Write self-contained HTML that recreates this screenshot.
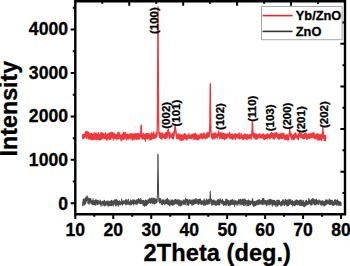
<!DOCTYPE html>
<html><head><meta charset="utf-8"><style>
html,body{margin:0;padding:0;background:#fff;}
svg{display:block;}
text{font-family:"Liberation Sans",sans-serif;font-weight:bold;fill:#000;stroke:#000;stroke-width:0.3px;}
</style></head><body>
<svg width="350" height="266" viewBox="0 0 350 266">
<rect width="350" height="266" fill="#fff"/>
<path d="M82.5 204.3L82.6 205.6L82.7 205.6L82.7 202.1L82.8 203.0L82.9 202.6L83.0 202.1L83.0 203.0L83.1 202.3L83.2 199.3L83.3 203.3L83.3 203.1L83.4 202.9L83.5 202.1L83.6 201.1L83.7 202.2L83.7 198.9L83.8 202.7L83.9 199.0L84.0 205.3L84.0 202.9L84.1 201.5L84.2 201.7L84.3 200.3L84.3 201.9L84.4 201.0L84.5 203.5L84.6 200.5L84.6 202.5L84.7 202.0L84.8 204.8L84.9 201.4L84.9 200.3L85.0 201.7L85.1 198.4L85.2 199.0L85.2 202.5L85.3 199.9L85.4 201.5L85.5 199.3L85.6 203.4L85.6 199.3L85.7 199.1L85.8 202.0L85.9 197.0L85.9 200.0L86.0 198.6L86.1 198.7L86.2 202.1L86.2 198.3L86.3 198.5L86.4 197.6L86.5 199.8L86.5 197.8L86.6 196.7L86.7 197.3L86.8 198.3L86.8 200.8L86.9 199.9L87.0 197.1L87.1 195.8L87.1 196.8L87.2 198.4L87.3 198.7L87.4 198.7L87.5 199.1L87.5 199.1L87.6 197.0L87.7 200.6L87.8 200.3L87.8 199.8L87.9 203.4L88.0 198.7L88.1 203.0L88.1 203.1L88.2 199.4L88.3 199.5L88.4 203.4L88.4 198.1L88.5 202.9L88.6 201.0L88.7 198.9L88.7 200.7L88.8 203.5L88.9 199.8L89.0 204.2L89.0 199.2L89.1 203.0L89.2 201.5L89.3 201.3L89.3 198.5L89.4 201.4L89.5 203.0L89.6 201.7L89.7 202.6L89.7 202.1L89.8 202.7L89.9 202.8L90.0 200.8L90.0 200.3L90.1 198.8L90.2 201.4L90.3 200.9L90.3 200.8L90.4 200.3L90.5 200.7L90.6 200.9L90.6 202.6L90.7 198.3L90.8 201.2L90.9 199.8L90.9 199.3L91.0 200.9L91.1 201.7L91.2 201.8L91.2 203.5L91.3 203.1L91.4 203.6L91.5 201.1L91.6 203.0L91.6 202.6L91.7 202.6L91.8 201.8L91.9 200.5L91.9 202.3L92.0 204.3L92.1 201.0L92.2 200.9L92.2 202.3L92.3 202.6L92.4 202.6L92.5 202.0L92.5 201.3L92.6 202.0L92.7 200.3L92.8 200.4L92.8 201.5L92.9 204.7L93.0 201.7L93.1 198.8L93.1 203.0L93.2 201.1L93.3 202.0L93.4 203.1L93.4 203.8L93.5 203.0L93.6 203.5L93.7 202.6L93.8 200.7L93.8 202.2L93.9 204.5L94.0 202.2L94.1 201.9L94.1 203.9L94.2 202.2L94.3 201.7L94.4 204.7L94.4 202.6L94.5 202.1L94.6 203.7L94.7 200.4L94.7 201.7L94.8 204.3L94.9 200.4L95.0 203.3L95.0 202.7L95.1 203.1L95.2 201.4L95.3 203.5L95.3 200.2L95.4 204.9L95.5 202.2L95.6 202.9L95.7 202.6L95.7 203.0L95.8 205.3L95.9 203.2L96.0 199.4L96.0 200.7L96.1 202.0L96.2 202.8L96.3 201.5L96.3 202.1L96.4 203.6L96.5 203.0L96.6 202.1L96.6 203.7L96.7 203.1L96.8 201.6L96.9 200.6L96.9 202.7L97.0 203.5L97.1 200.9L97.2 200.3L97.2 202.9L97.3 201.4L97.4 203.7L97.5 205.0L97.6 201.6L97.6 202.2L97.7 203.3L97.8 203.8L97.9 200.3L97.9 202.0L98.0 202.1L98.1 202.9L98.2 201.5L98.2 202.4L98.3 202.8L98.4 203.1L98.5 200.8L98.5 203.1L98.6 201.8L98.7 204.1L98.8 203.7L98.8 203.5L98.9 203.3L99.0 203.8L99.1 202.0L99.1 201.9L99.2 203.2L99.3 202.2L99.4 201.9L99.4 203.6L99.5 202.5L99.6 201.9L99.7 201.6L99.8 203.2L99.8 201.4L99.9 201.5L100.0 200.9L100.1 201.6L100.1 199.9L100.2 204.6L100.3 202.2L100.4 201.2L100.4 200.6L100.5 203.6L100.6 202.4L100.7 202.1L100.7 200.7L100.8 202.1L100.9 202.9L101.0 205.5L101.0 202.2L101.1 206.3L101.2 204.5L101.3 203.3L101.3 202.1L101.4 202.8L101.5 204.8L101.6 203.7L101.7 203.1L101.7 204.3L101.8 203.4L101.9 202.7L102.0 202.9L102.0 201.7L102.1 202.8L102.2 201.9L102.3 201.2L102.3 201.9L102.4 202.2L102.5 201.5L102.6 203.5L102.6 203.3L102.7 202.1L102.8 202.3L102.9 201.2L102.9 205.8L103.0 201.2L103.1 203.6L103.2 201.7L103.2 201.1L103.3 203.5L103.4 201.9L103.5 201.7L103.5 201.6L103.6 202.0L103.7 202.9L103.8 201.3L103.9 202.0L103.9 202.0L104.0 204.5L104.1 203.8L104.2 204.4L104.2 201.7L104.3 205.9L104.4 205.2L104.5 200.2L104.5 202.4L104.6 202.5L104.7 200.7L104.8 202.4L104.8 204.7L104.9 202.7L105.0 201.7L105.1 205.3L105.1 203.3L105.2 202.1L105.3 202.5L105.4 204.3L105.4 203.6L105.5 203.2L105.6 204.6L105.7 203.8L105.8 201.8L105.8 203.4L105.9 202.1L106.0 205.8L106.1 203.8L106.1 203.4L106.2 204.4L106.3 201.3L106.4 202.1L106.4 202.4L106.5 202.2L106.6 201.8L106.7 203.4L106.7 204.0L106.8 202.1L106.9 203.0L107.0 204.2L107.0 202.2L107.1 204.1L107.2 202.3L107.3 201.0L107.3 202.8L107.4 203.5L107.5 205.1L107.6 204.4L107.7 202.4L107.7 202.9L107.8 201.3L107.9 202.4L108.0 201.4L108.0 202.6L108.1 200.7L108.2 206.2L108.3 205.2L108.3 204.0L108.4 201.9L108.5 205.1L108.6 202.9L108.6 202.6L108.7 204.7L108.8 204.7L108.9 203.9L108.9 203.9L109.0 205.6L109.1 203.9L109.2 205.8L109.2 205.2L109.3 201.4L109.4 203.7L109.5 203.1L109.5 202.8L109.6 202.3L109.7 205.6L109.8 204.0L109.9 202.5L109.9 204.7L110.0 204.4L110.1 203.6L110.2 201.8L110.2 205.3L110.3 201.2L110.4 204.0L110.5 202.1L110.5 205.4L110.6 204.2L110.7 202.0L110.8 203.5L110.8 200.8L110.9 202.9L111.0 202.5L111.1 203.6L111.1 201.9L111.2 204.1L111.3 205.2L111.4 202.2L111.4 205.8L111.5 200.2L111.6 205.6L111.7 200.6L111.8 204.2L111.8 202.2L111.9 202.2L112.0 200.9L112.1 200.9L112.1 205.2L112.2 204.6L112.3 203.8L112.4 205.1L112.4 201.9L112.5 201.9L112.6 201.2L112.7 204.7L112.7 201.6L112.8 202.9L112.9 201.0L113.0 200.9L113.0 202.7L113.1 203.0L113.2 205.1L113.3 202.1L113.3 202.7L113.4 206.0L113.5 202.2L113.6 203.2L113.6 205.0L113.7 201.9L113.8 204.5L113.9 202.4L114.0 200.7L114.0 202.2L114.1 201.7L114.2 202.7L114.3 200.4L114.3 201.8L114.4 202.7L114.5 204.0L114.6 202.4L114.6 202.2L114.7 202.7L114.8 199.5L114.9 202.1L114.9 202.0L115.0 203.1L115.1 202.5L115.2 201.0L115.2 202.0L115.3 203.9L115.4 203.0L115.5 202.1L115.5 201.1L115.6 205.5L115.7 199.8L115.8 206.0L115.9 200.7L115.9 201.2L116.0 203.0L116.1 202.4L116.2 202.9L116.2 203.8L116.3 201.6L116.4 202.2L116.5 204.5L116.5 202.4L116.6 205.6L116.7 203.0L116.8 199.4L116.8 202.6L116.9 201.0L117.0 200.0L117.1 200.8L117.1 201.1L117.2 202.7L117.3 201.9L117.4 203.5L117.4 201.2L117.5 204.6L117.6 200.8L117.7 200.9L117.8 203.5L117.8 202.7L117.9 202.6L118.0 202.0L118.1 204.7L118.1 202.2L118.2 202.4L118.3 202.5L118.4 201.2L118.4 205.7L118.5 201.7L118.6 206.2L118.7 204.0L118.7 201.8L118.8 202.9L118.9 202.1L119.0 203.2L119.0 203.4L119.1 203.9L119.2 201.9L119.3 203.0L119.3 201.5L119.4 202.8L119.5 202.3L119.6 203.1L119.6 200.4L119.7 204.1L119.8 204.6L119.9 201.6L120.0 201.8L120.0 203.9L120.1 203.3L120.2 202.3L120.3 204.6L120.3 202.6L120.4 204.1L120.5 202.8L120.6 203.0L120.6 204.6L120.7 203.4L120.8 202.8L120.9 201.5L120.9 202.1L121.0 202.0L121.1 203.9L121.2 201.3L121.2 202.8L121.3 203.3L121.4 202.1L121.5 204.0L121.5 203.1L121.6 201.2L121.7 199.0L121.8 201.5L121.9 201.6L121.9 201.4L122.0 203.1L122.1 200.9L122.2 203.8L122.2 204.0L122.3 201.6L122.4 202.6L122.5 203.6L122.5 203.9L122.6 205.3L122.7 201.9L122.8 201.2L122.8 203.2L122.9 204.1L123.0 202.7L123.1 203.8L123.1 201.1L123.2 203.9L123.3 200.7L123.4 200.7L123.4 203.2L123.5 201.5L123.6 201.9L123.7 203.7L123.7 202.6L123.8 201.3L123.9 202.9L124.0 202.9L124.1 200.9L124.1 201.5L124.2 202.4L124.3 200.7L124.4 203.0L124.4 201.5L124.5 202.4L124.6 201.8L124.7 201.7L124.7 201.2L124.8 203.3L124.9 201.7L125.0 202.7L125.0 201.1L125.1 203.1L125.2 204.1L125.3 202.0L125.3 202.8L125.4 201.3L125.5 203.4L125.6 200.3L125.6 201.0L125.7 204.6L125.8 201.8L125.9 204.9L126.0 199.2L126.0 201.5L126.1 201.2L126.2 204.3L126.3 200.2L126.3 200.8L126.4 200.7L126.5 201.1L126.6 200.0L126.6 200.1L126.7 203.2L126.8 204.1L126.9 200.5L126.9 202.3L127.0 201.1L127.1 201.9L127.2 204.0L127.2 202.0L127.3 202.3L127.4 203.5L127.5 200.7L127.5 203.3L127.6 203.8L127.7 204.1L127.8 203.0L127.9 202.1L127.9 204.5L128.0 202.4L128.1 202.6L128.2 201.5L128.2 202.4L128.3 199.1L128.4 203.2L128.5 202.9L128.5 201.8L128.6 203.8L128.7 203.9L128.8 201.8L128.8 203.7L128.9 203.9L129.0 201.9L129.1 202.1L129.1 203.2L129.2 202.4L129.3 203.1L129.4 202.2L129.4 204.1L129.5 202.6L129.6 204.9L129.7 204.6L129.7 204.3L129.8 204.3L129.9 202.0L130.0 202.3L130.1 201.6L130.1 201.2L130.2 201.4L130.3 201.8L130.4 199.7L130.4 201.4L130.5 202.6L130.6 202.7L130.7 201.0L130.7 201.8L130.8 201.5L130.9 205.0L131.0 204.6L131.0 204.5L131.1 203.6L131.2 204.0L131.3 203.6L131.3 201.8L131.4 201.2L131.5 204.6L131.6 200.5L131.6 203.3L131.7 200.9L131.8 201.4L131.9 201.9L132.0 200.7L132.0 201.9L132.1 203.4L132.2 203.4L132.3 202.5L132.3 202.0L132.4 201.3L132.5 203.7L132.6 203.5L132.6 202.8L132.7 202.1L132.8 201.3L132.9 202.9L132.9 199.4L133.0 201.1L133.1 199.7L133.2 202.3L133.2 203.5L133.3 199.4L133.4 203.3L133.5 202.8L133.5 202.2L133.6 204.9L133.7 202.7L133.8 202.6L133.8 202.2L133.9 200.9L134.0 201.4L134.1 201.1L134.2 201.6L134.2 202.6L134.3 201.3L134.4 202.2L134.5 201.2L134.5 203.6L134.6 200.2L134.7 200.0L134.8 201.3L134.8 201.7L134.9 201.0L135.0 203.6L135.1 200.7L135.1 203.6L135.2 201.6L135.3 203.3L135.4 202.0L135.4 201.5L135.5 201.3L135.6 204.0L135.7 201.2L135.7 203.1L135.8 200.9L135.9 202.7L136.0 201.2L136.1 200.2L136.1 201.8L136.2 200.9L136.3 203.8L136.4 204.2L136.4 204.1L136.5 200.6L136.6 200.3L136.7 199.9L136.7 200.2L136.8 203.0L136.9 200.1L137.0 201.9L137.0 204.3L137.1 201.7L137.2 200.6L137.3 202.5L137.3 199.8L137.4 201.2L137.5 201.8L137.6 201.3L137.6 202.9L137.7 202.1L137.8 202.4L137.9 203.6L138.0 200.7L138.0 199.3L138.1 201.6L138.2 200.3L138.3 201.7L138.3 202.0L138.4 200.2L138.5 201.5L138.6 198.5L138.6 200.6L138.7 201.3L138.8 201.4L138.9 202.5L138.9 202.3L139.0 200.1L139.1 200.7L139.2 202.8L139.2 201.0L139.3 203.2L139.4 203.3L139.5 201.8L139.5 199.7L139.6 200.6L139.7 199.4L139.8 200.6L139.8 199.7L139.9 201.4L140.0 202.9L140.1 201.7L140.2 200.3L140.2 203.5L140.3 202.5L140.4 201.1L140.5 201.9L140.5 201.2L140.6 200.3L140.7 203.1L140.8 199.1L140.8 198.3L140.9 199.9L141.0 203.6L141.1 201.4L141.1 203.4L141.2 201.2L141.3 201.4L141.4 200.3L141.4 200.4L141.5 202.4L141.6 200.2L141.7 203.5L141.7 201.1L141.8 202.0L141.9 203.0L142.0 201.9L142.1 201.8L142.1 202.6L142.2 202.5L142.3 202.2L142.4 201.0L142.4 202.6L142.5 200.5L142.6 202.6L142.7 201.1L142.7 203.2L142.8 200.5L142.9 202.2L143.0 204.4L143.0 202.2L143.1 205.5L143.2 202.7L143.3 202.7L143.3 200.7L143.4 201.2L143.5 204.3L143.6 203.7L143.6 204.9L143.7 200.6L143.8 203.0L143.9 203.6L143.9 202.6L144.0 205.2L144.1 202.3L144.2 202.4L144.3 203.0L144.3 206.1L144.4 201.5L144.5 204.3L144.6 205.5L144.6 201.2L144.7 204.2L144.8 203.1L144.9 202.9L144.9 201.2L145.0 203.2L145.1 200.3L145.2 203.1L145.2 205.0L145.3 205.9L145.4 202.9L145.5 204.6L145.5 201.5L145.6 201.1L145.7 202.3L145.8 202.9L145.8 199.9L145.9 200.3L146.0 204.0L146.1 202.6L146.2 201.3L146.2 202.6L146.3 201.5L146.4 205.6L146.5 201.6L146.5 200.5L146.6 202.4L146.7 202.8L146.8 200.4L146.8 201.3L146.9 204.1L147.0 203.1L147.1 202.3L147.1 202.9L147.2 201.8L147.3 201.8L147.4 204.4L147.4 201.5L147.5 201.1L147.6 202.2L147.7 201.7L147.7 201.0L147.8 200.9L147.9 201.5L148.0 202.2L148.1 199.4L148.1 200.2L148.2 201.0L148.3 201.5L148.4 202.0L148.4 203.3L148.5 201.2L148.6 201.6L148.7 201.6L148.7 202.9L148.8 200.5L148.9 201.8L149.0 203.1L149.0 201.4L149.1 202.8L149.2 199.3L149.3 200.4L149.3 202.0L149.4 200.5L149.5 202.6L149.6 199.9L149.6 200.1L149.7 199.3L149.8 202.5L149.9 200.7L149.9 197.9L150.0 201.8L150.1 201.3L150.2 200.5L150.3 201.5L150.3 201.0L150.4 199.5L150.5 202.9L150.6 200.6L150.6 199.2L150.7 199.4L150.8 200.6L150.9 199.0L150.9 201.0L151.0 203.5L151.1 199.6L151.2 199.6L151.2 202.6L151.3 201.4L151.4 201.9L151.5 199.4L151.5 200.1L151.6 201.2L151.7 199.0L151.8 197.8L151.8 200.4L151.9 202.5L152.0 199.7L152.1 198.1L152.2 199.3L152.2 198.4L152.3 200.6L152.4 202.2L152.5 201.0L152.5 203.6L152.6 202.0L152.7 202.9L152.8 199.2L152.8 200.3L152.9 201.9L153.0 200.4L153.1 200.2L153.1 199.4L153.2 203.7L153.3 201.8L153.4 200.8L153.4 202.0L153.5 198.0L153.6 202.7L153.7 198.9L153.7 199.1L153.8 202.4L153.9 199.8L154.0 201.3L154.0 200.8L154.1 202.2L154.2 200.8L154.3 202.3L154.4 201.4L154.4 204.0L154.5 201.0L154.6 201.0L154.7 203.1L154.7 198.4L154.8 201.6L154.9 201.9L155.0 201.8L155.0 199.5L155.1 200.7L155.2 203.5L155.3 202.7L155.3 199.2L155.4 198.9L155.5 202.2L155.6 200.9L155.6 202.7L155.7 200.9L155.8 202.3L155.9 201.5L155.9 199.0L156.0 203.1L156.1 202.2L156.2 202.9L156.3 200.7L156.3 202.6L156.4 201.0L156.5 199.5L156.6 202.7L156.6 202.4L156.7 199.2L156.8 202.6L156.9 201.2L156.9 201.8L157.0 201.5L157.1 202.1L157.2 200.3L157.2 200.9L157.3 197.7L157.4 195.1L157.5 192.9L157.5 188.6L157.6 179.0L157.7 175.5L157.8 167.5L157.8 158.9L157.9 154.1L158.0 156.6L158.1 154.5L158.2 162.7L158.2 166.2L158.3 175.8L158.4 181.1L158.5 188.0L158.5 191.9L158.6 193.4L158.7 196.3L158.8 199.6L158.8 200.4L158.9 201.8L159.0 201.8L159.1 201.1L159.1 198.6L159.2 200.8L159.3 201.8L159.4 202.4L159.4 200.2L159.5 203.0L159.6 200.7L159.7 198.5L159.7 201.1L159.8 201.3L159.9 200.1L160.0 202.5L160.0 200.9L160.1 199.3L160.2 200.3L160.3 201.9L160.4 201.9L160.4 201.9L160.5 200.8L160.6 198.5L160.7 199.6L160.7 201.9L160.8 200.1L160.9 200.5L161.0 200.8L161.0 203.2L161.1 200.6L161.2 201.0L161.3 201.5L161.3 201.9L161.4 202.9L161.5 204.4L161.6 202.0L161.6 202.1L161.7 202.4L161.8 201.7L161.9 202.8L161.9 202.8L162.0 201.2L162.1 199.8L162.2 200.1L162.3 201.3L162.3 203.4L162.4 203.3L162.5 204.7L162.6 203.2L162.6 201.8L162.7 202.7L162.8 200.1L162.9 202.2L162.9 202.0L163.0 202.1L163.1 201.3L163.2 203.4L163.2 201.1L163.3 201.0L163.4 199.7L163.5 200.8L163.5 202.2L163.6 203.5L163.7 203.1L163.8 202.6L163.8 200.9L163.9 199.8L164.0 201.0L164.1 202.5L164.1 200.2L164.2 203.1L164.3 200.6L164.4 201.7L164.5 202.9L164.5 200.7L164.6 202.1L164.7 201.8L164.8 204.7L164.8 203.3L164.9 201.0L165.0 202.6L165.1 202.9L165.1 200.8L165.2 204.1L165.3 201.3L165.4 203.8L165.4 200.8L165.5 201.4L165.6 203.4L165.7 203.0L165.7 203.6L165.8 199.5L165.9 200.7L166.0 200.7L166.0 202.2L166.1 199.3L166.2 202.1L166.3 203.7L166.4 199.8L166.4 202.2L166.5 203.6L166.6 202.0L166.7 203.1L166.7 200.5L166.8 202.6L166.9 199.0L167.0 202.2L167.0 200.2L167.1 201.1L167.2 202.5L167.3 203.7L167.3 201.3L167.4 198.2L167.5 204.3L167.6 200.6L167.6 202.7L167.7 201.1L167.8 203.9L167.9 203.0L167.9 201.5L168.0 201.4L168.1 201.3L168.2 202.8L168.3 204.5L168.3 199.7L168.4 202.4L168.5 203.3L168.6 202.1L168.6 203.9L168.7 203.0L168.8 203.6L168.9 199.7L168.9 202.7L169.0 203.1L169.1 205.3L169.2 200.6L169.2 202.7L169.3 203.5L169.4 203.8L169.5 204.6L169.5 201.3L169.6 201.2L169.7 201.4L169.8 202.3L169.8 202.5L169.9 205.9L170.0 202.3L170.1 204.6L170.1 201.4L170.2 202.7L170.3 201.2L170.4 202.0L170.5 203.4L170.5 204.2L170.6 203.4L170.7 203.7L170.8 203.4L170.8 204.6L170.9 204.7L171.0 201.7L171.1 199.9L171.1 202.2L171.2 201.1L171.3 203.1L171.4 202.3L171.4 200.5L171.5 202.1L171.6 202.9L171.7 202.6L171.7 203.3L171.8 201.9L171.9 204.2L172.0 204.9L172.0 200.1L172.1 201.5L172.2 205.0L172.3 200.9L172.4 203.5L172.4 201.1L172.5 199.9L172.6 205.2L172.7 201.1L172.7 201.8L172.8 202.9L172.9 203.4L173.0 202.2L173.0 201.5L173.1 203.6L173.2 205.1L173.3 204.0L173.3 203.8L173.4 200.7L173.5 202.7L173.6 201.2L173.6 201.6L173.7 201.6L173.8 203.3L173.9 201.9L173.9 203.6L174.0 204.3L174.1 200.3L174.2 200.9L174.2 202.2L174.3 204.3L174.4 201.6L174.5 199.8L174.6 203.1L174.6 202.4L174.7 204.1L174.8 203.8L174.9 202.0L174.9 200.5L175.0 201.7L175.1 202.3L175.2 202.8L175.2 203.4L175.3 201.3L175.4 202.3L175.5 199.3L175.5 202.7L175.6 202.8L175.7 203.6L175.8 202.0L175.8 203.6L175.9 202.7L176.0 202.3L176.1 202.1L176.1 201.6L176.2 201.0L176.3 200.8L176.4 201.1L176.5 200.8L176.5 200.1L176.6 200.9L176.7 200.7L176.8 200.7L176.8 201.1L176.9 204.1L177.0 199.9L177.1 201.6L177.1 200.4L177.2 202.1L177.3 204.3L177.4 202.1L177.4 201.4L177.5 201.5L177.6 201.9L177.7 201.9L177.7 201.9L177.8 203.0L177.9 200.5L178.0 201.9L178.0 199.3L178.1 202.4L178.2 201.9L178.3 202.7L178.4 203.3L178.4 204.2L178.5 204.1L178.6 203.6L178.7 202.8L178.7 202.8L178.8 202.4L178.9 205.6L179.0 205.9L179.0 202.0L179.1 200.6L179.2 201.3L179.3 199.9L179.3 201.3L179.4 203.8L179.5 201.8L179.6 202.8L179.6 203.0L179.7 205.2L179.8 202.2L179.9 202.5L179.9 204.0L180.0 205.5L180.1 205.0L180.2 200.7L180.2 203.6L180.3 203.9L180.4 203.0L180.5 204.2L180.6 205.5L180.6 203.1L180.7 202.7L180.8 205.9L180.9 202.7L180.9 202.7L181.0 202.4L181.1 200.3L181.2 204.8L181.2 201.7L181.3 204.9L181.4 202.8L181.5 202.1L181.5 203.6L181.6 205.3L181.7 202.3L181.8 205.0L181.8 202.4L181.9 204.2L182.0 201.9L182.1 205.0L182.1 203.6L182.2 202.8L182.3 201.5L182.4 202.9L182.5 202.2L182.5 202.2L182.6 201.3L182.7 203.0L182.8 201.7L182.8 202.4L182.9 201.4L183.0 202.3L183.1 202.9L183.1 200.2L183.2 200.8L183.3 199.8L183.4 203.3L183.4 201.6L183.5 204.3L183.6 201.0L183.7 201.8L183.7 203.6L183.8 202.2L183.9 203.9L184.0 200.9L184.0 202.0L184.1 204.6L184.2 202.2L184.3 203.6L184.3 202.1L184.4 200.7L184.5 203.5L184.6 202.6L184.7 201.6L184.7 201.8L184.8 200.4L184.9 202.4L185.0 199.6L185.0 200.5L185.1 200.6L185.2 201.2L185.3 202.1L185.3 201.5L185.4 204.6L185.5 202.7L185.6 199.5L185.6 200.1L185.7 198.3L185.8 199.0L185.9 201.5L185.9 201.6L186.0 200.1L186.1 202.3L186.2 200.2L186.2 200.2L186.3 199.3L186.4 200.7L186.5 201.3L186.6 202.2L186.6 199.6L186.7 200.8L186.8 200.3L186.9 205.1L186.9 202.5L187.0 202.2L187.1 204.9L187.2 203.5L187.2 204.4L187.3 200.5L187.4 199.2L187.5 202.3L187.5 202.3L187.6 199.2L187.7 203.6L187.8 203.0L187.8 200.2L187.9 199.9L188.0 202.0L188.1 201.5L188.1 203.9L188.2 205.1L188.3 203.6L188.4 201.4L188.5 203.2L188.5 204.0L188.6 201.9L188.7 205.3L188.8 201.1L188.8 201.6L188.9 204.9L189.0 202.0L189.1 203.5L189.1 200.2L189.2 203.2L189.3 203.1L189.4 200.0L189.4 200.2L189.5 202.3L189.6 202.9L189.7 202.4L189.7 202.4L189.8 199.6L189.9 200.1L190.0 202.2L190.0 202.4L190.1 202.7L190.2 201.8L190.3 203.3L190.3 200.9L190.4 203.6L190.5 202.8L190.6 202.6L190.7 203.8L190.7 203.1L190.8 201.0L190.9 203.8L191.0 202.3L191.0 203.7L191.1 201.9L191.2 199.9L191.3 200.6L191.3 201.5L191.4 202.3L191.5 201.3L191.6 203.7L191.6 201.6L191.7 204.9L191.8 201.8L191.9 202.8L191.9 200.5L192.0 203.4L192.1 204.4L192.2 202.8L192.2 205.1L192.3 203.8L192.4 199.8L192.5 202.2L192.6 202.5L192.6 203.5L192.7 200.7L192.8 201.1L192.9 203.0L192.9 204.5L193.0 202.7L193.1 202.5L193.2 200.3L193.2 202.4L193.3 204.7L193.4 200.3L193.5 202.3L193.5 199.9L193.6 202.7L193.7 203.6L193.8 201.0L193.8 204.1L193.9 202.1L194.0 202.0L194.1 199.5L194.1 202.8L194.2 200.4L194.3 203.9L194.4 204.0L194.4 202.5L194.5 202.9L194.6 200.9L194.7 201.0L194.8 200.3L194.8 200.2L194.9 202.6L195.0 203.4L195.1 201.4L195.1 201.6L195.2 201.6L195.3 202.0L195.4 203.5L195.4 198.8L195.5 200.2L195.6 203.8L195.7 200.9L195.7 202.8L195.8 203.5L195.9 201.4L196.0 201.9L196.0 202.5L196.1 202.5L196.2 200.7L196.3 201.2L196.3 198.7L196.4 202.3L196.5 202.4L196.6 203.1L196.7 200.2L196.7 201.0L196.8 201.8L196.9 201.6L197.0 203.3L197.0 201.8L197.1 201.2L197.2 201.4L197.3 202.3L197.3 200.1L197.4 201.2L197.5 200.7L197.6 203.8L197.6 202.3L197.7 199.4L197.8 203.9L197.9 200.4L197.9 202.4L198.0 202.3L198.1 202.1L198.2 203.6L198.2 201.5L198.3 204.1L198.4 200.7L198.5 204.4L198.6 200.5L198.6 202.6L198.7 199.8L198.8 201.3L198.9 202.5L198.9 199.3L199.0 203.4L199.1 201.5L199.2 200.5L199.2 198.9L199.3 199.4L199.4 202.4L199.5 201.8L199.5 202.9L199.6 201.6L199.7 200.8L199.8 202.5L199.8 200.5L199.9 200.0L200.0 204.1L200.1 199.5L200.1 201.3L200.2 201.2L200.3 199.1L200.4 203.1L200.4 202.8L200.5 202.2L200.6 199.0L200.7 202.6L200.8 199.9L200.8 201.4L200.9 203.5L201.0 202.7L201.1 203.0L201.1 201.5L201.2 202.5L201.3 204.5L201.4 201.2L201.4 203.6L201.5 204.4L201.6 201.0L201.7 203.1L201.7 202.7L201.8 204.5L201.9 202.0L202.0 200.5L202.0 203.4L202.1 200.9L202.2 202.3L202.3 202.1L202.3 202.3L202.4 202.8L202.5 204.1L202.6 202.7L202.7 202.9L202.7 203.0L202.8 202.8L202.9 202.3L203.0 203.2L203.0 201.3L203.1 202.7L203.2 200.8L203.3 203.1L203.3 203.6L203.4 201.1L203.5 204.9L203.6 202.0L203.6 203.6L203.7 201.2L203.8 201.7L203.9 201.7L203.9 200.8L204.0 201.2L204.1 198.9L204.2 201.3L204.2 203.5L204.3 205.4L204.4 204.0L204.5 203.1L204.5 203.1L204.6 202.7L204.7 202.1L204.8 200.2L204.9 202.7L204.9 200.0L205.0 200.4L205.1 203.5L205.2 202.0L205.2 202.7L205.3 203.3L205.4 203.5L205.5 200.8L205.5 205.0L205.6 202.4L205.7 202.9L205.8 202.1L205.8 203.6L205.9 202.9L206.0 201.8L206.1 201.1L206.1 200.7L206.2 201.1L206.3 203.6L206.4 203.0L206.4 202.5L206.5 203.0L206.6 198.7L206.7 199.7L206.8 201.0L206.8 204.8L206.9 203.0L207.0 202.4L207.1 201.6L207.1 201.9L207.2 200.1L207.3 201.6L207.4 201.7L207.4 203.1L207.5 201.0L207.6 204.2L207.7 201.7L207.7 203.7L207.8 202.2L207.9 201.3L208.0 202.5L208.0 201.7L208.1 201.9L208.2 203.3L208.3 202.4L208.3 199.7L208.4 204.1L208.5 202.6L208.6 201.8L208.7 201.9L208.7 202.5L208.8 199.3L208.9 202.9L209.0 203.3L209.0 203.5L209.1 201.8L209.2 201.4L209.3 202.9L209.3 201.5L209.4 201.5L209.5 203.7L209.6 199.1L209.6 199.6L209.7 201.3L209.8 200.7L209.9 200.4L209.9 199.0L210.0 196.5L210.1 196.4L210.2 192.1L210.2 191.3L210.3 192.4L210.4 193.9L210.5 194.0L210.5 194.9L210.6 198.0L210.7 201.2L210.8 199.3L210.9 199.6L210.9 203.2L211.0 198.8L211.1 202.8L211.2 201.3L211.2 202.5L211.3 203.8L211.4 202.0L211.5 200.6L211.5 204.2L211.6 201.9L211.7 202.4L211.8 199.2L211.8 200.9L211.9 205.5L212.0 201.6L212.1 203.0L212.1 201.5L212.2 200.5L212.3 202.6L212.4 200.5L212.4 203.1L212.5 202.3L212.6 201.2L212.7 204.2L212.8 204.4L212.8 204.5L212.9 204.3L213.0 202.1L213.1 203.2L213.1 202.9L213.2 204.2L213.3 204.0L213.4 201.8L213.4 202.2L213.5 200.2L213.6 203.5L213.7 202.8L213.7 199.7L213.8 201.2L213.9 203.0L214.0 200.3L214.0 200.5L214.1 204.1L214.2 203.0L214.3 203.6L214.3 200.5L214.4 202.2L214.5 202.7L214.6 202.8L214.6 201.7L214.7 204.6L214.8 201.8L214.9 203.2L215.0 204.0L215.0 203.1L215.1 201.6L215.2 204.6L215.3 202.6L215.3 201.0L215.4 202.0L215.5 202.5L215.6 203.6L215.6 200.9L215.7 202.5L215.8 205.4L215.9 203.5L215.9 204.0L216.0 201.6L216.1 203.2L216.2 202.4L216.2 201.8L216.3 203.1L216.4 205.2L216.5 202.9L216.5 202.1L216.6 203.6L216.7 202.9L216.8 203.0L216.9 202.2L216.9 204.9L217.0 201.5L217.1 200.2L217.2 204.6L217.2 202.3L217.3 202.5L217.4 203.5L217.5 201.6L217.5 202.6L217.6 202.2L217.7 202.4L217.8 204.0L217.8 201.8L217.9 204.4L218.0 199.4L218.1 199.3L218.1 203.7L218.2 203.4L218.3 203.2L218.4 199.7L218.4 202.7L218.5 204.5L218.6 201.5L218.7 201.3L218.8 200.7L218.8 205.1L218.9 200.1L219.0 201.4L219.1 202.4L219.1 204.9L219.2 201.8L219.3 203.1L219.4 201.9L219.4 201.6L219.5 203.1L219.6 199.7L219.7 199.9L219.7 201.0L219.8 201.3L219.9 204.6L220.0 203.0L220.0 199.1L220.1 202.5L220.2 201.2L220.3 198.7L220.3 201.8L220.4 201.5L220.5 199.8L220.6 202.1L220.6 200.7L220.7 202.5L220.8 200.2L220.9 200.4L221.0 201.9L221.0 201.8L221.1 201.9L221.2 202.0L221.3 200.5L221.3 201.8L221.4 200.5L221.5 202.5L221.6 201.2L221.6 202.3L221.7 201.2L221.8 203.6L221.9 201.4L221.9 202.3L222.0 202.7L222.1 204.1L222.2 204.2L222.2 204.3L222.3 199.2L222.4 203.4L222.5 203.4L222.5 199.3L222.6 201.0L222.7 203.4L222.8 201.8L222.9 203.2L222.9 202.4L223.0 200.3L223.1 201.7L223.2 201.9L223.2 202.9L223.3 203.0L223.4 202.6L223.5 203.2L223.5 201.6L223.6 205.5L223.7 202.1L223.8 202.9L223.8 203.8L223.9 203.1L224.0 204.4L224.1 201.4L224.1 202.8L224.2 203.1L224.3 203.1L224.4 203.6L224.4 203.8L224.5 201.5L224.6 204.9L224.7 202.9L224.7 201.9L224.8 203.8L224.9 201.9L225.0 202.3L225.1 202.3L225.1 203.4L225.2 201.8L225.3 203.5L225.4 203.3L225.4 201.5L225.5 204.9L225.6 203.2L225.7 199.2L225.7 200.8L225.8 201.6L225.9 202.3L226.0 203.4L226.0 200.5L226.1 199.8L226.2 204.1L226.3 204.5L226.3 205.3L226.4 205.3L226.5 202.8L226.6 199.1L226.6 200.4L226.7 202.8L226.8 203.4L226.9 200.5L227.0 203.8L227.0 203.6L227.1 199.6L227.2 202.7L227.3 201.7L227.3 202.3L227.4 202.9L227.5 201.7L227.6 201.4L227.6 203.1L227.7 200.5L227.8 202.9L227.9 201.9L227.9 200.7L228.0 205.1L228.1 203.3L228.2 200.2L228.2 202.7L228.3 203.0L228.4 203.8L228.5 201.9L228.5 205.5L228.6 203.5L228.7 201.7L228.8 201.7L228.9 200.3L228.9 202.3L229.0 202.3L229.1 202.7L229.2 202.3L229.2 201.3L229.3 204.6L229.4 202.4L229.5 204.6L229.5 202.3L229.6 204.2L229.7 205.0L229.8 202.2L229.8 203.9L229.9 206.1L230.0 202.8L230.1 203.8L230.1 203.3L230.2 203.6L230.3 205.1L230.4 204.2L230.4 200.5L230.5 200.1L230.6 204.5L230.7 202.9L230.7 202.9L230.8 203.2L230.9 200.7L231.0 204.0L231.1 200.5L231.1 202.5L231.2 201.4L231.3 202.3L231.4 204.2L231.4 200.4L231.5 202.5L231.6 203.8L231.7 203.9L231.7 203.9L231.8 199.8L231.9 204.4L232.0 201.9L232.0 201.7L232.1 204.3L232.2 204.4L232.3 200.6L232.3 204.5L232.4 201.4L232.5 201.3L232.6 203.9L232.6 199.4L232.7 204.3L232.8 202.5L232.9 201.1L233.0 202.4L233.0 203.5L233.1 202.1L233.2 203.0L233.3 201.8L233.3 203.0L233.4 204.4L233.5 203.2L233.6 201.2L233.6 202.9L233.7 203.7L233.8 202.7L233.9 203.6L233.9 200.1L234.0 204.1L234.1 204.1L234.2 203.7L234.2 203.9L234.3 202.7L234.4 203.0L234.5 201.5L234.5 206.0L234.6 206.3L234.7 202.8L234.8 200.7L234.8 201.3L234.9 202.7L235.0 202.6L235.1 203.4L235.2 202.4L235.2 204.4L235.3 202.2L235.4 201.9L235.5 203.5L235.5 201.0L235.6 203.6L235.7 202.7L235.8 202.6L235.8 203.7L235.9 203.3L236.0 200.3L236.1 201.4L236.1 204.0L236.2 202.7L236.3 202.1L236.4 202.7L236.4 201.4L236.5 202.2L236.6 203.3L236.7 202.3L236.7 202.3L236.8 205.0L236.9 203.9L237.0 203.0L237.1 205.3L237.1 201.9L237.2 204.2L237.3 201.9L237.4 203.8L237.4 202.1L237.5 203.4L237.6 201.0L237.7 203.4L237.7 201.7L237.8 201.4L237.9 203.8L238.0 202.3L238.0 202.7L238.1 202.0L238.2 202.5L238.3 202.5L238.3 202.1L238.4 202.5L238.5 201.6L238.6 202.2L238.6 199.5L238.7 203.5L238.8 201.3L238.9 202.0L239.0 204.0L239.0 205.1L239.1 201.4L239.2 202.1L239.3 201.1L239.3 204.1L239.4 200.3L239.5 203.4L239.6 201.6L239.6 203.1L239.7 201.3L239.8 200.8L239.9 202.5L239.9 199.3L240.0 199.9L240.1 199.3L240.2 202.2L240.2 200.1L240.3 201.2L240.4 201.8L240.5 201.7L240.5 199.5L240.6 202.9L240.7 204.7L240.8 202.1L240.8 205.0L240.9 202.5L241.0 204.1L241.1 202.2L241.2 201.9L241.2 202.8L241.3 200.3L241.4 201.6L241.5 202.8L241.5 201.2L241.6 202.8L241.7 201.3L241.8 204.2L241.8 202.0L241.9 201.6L242.0 202.4L242.1 204.4L242.1 199.1L242.2 200.7L242.3 201.0L242.4 202.4L242.4 203.9L242.5 202.4L242.6 202.0L242.7 199.5L242.7 202.9L242.8 202.5L242.9 204.1L243.0 202.3L243.1 202.0L243.1 199.3L243.2 203.4L243.3 204.1L243.4 204.4L243.4 203.6L243.5 204.2L243.6 204.8L243.7 199.3L243.7 205.5L243.8 201.2L243.9 205.2L244.0 202.9L244.0 200.4L244.1 202.0L244.2 203.7L244.3 205.4L244.3 199.5L244.4 201.3L244.5 203.4L244.6 202.1L244.6 201.2L244.7 200.9L244.8 202.8L244.9 198.8L244.9 202.5L245.0 202.8L245.1 201.5L245.2 203.4L245.3 201.2L245.3 200.8L245.4 200.1L245.5 200.4L245.6 205.1L245.6 204.8L245.7 201.5L245.8 201.8L245.9 200.6L245.9 203.7L246.0 201.8L246.1 203.6L246.2 202.8L246.2 201.4L246.3 202.3L246.4 200.6L246.5 201.6L246.5 202.6L246.6 201.9L246.7 203.5L246.8 201.3L246.8 203.6L246.9 202.1L247.0 206.1L247.1 202.5L247.2 205.8L247.2 200.7L247.3 204.9L247.4 203.0L247.5 204.4L247.5 201.2L247.6 202.7L247.7 205.1L247.8 203.1L247.8 203.6L247.9 201.4L248.0 200.4L248.1 203.9L248.1 201.7L248.2 203.7L248.3 202.7L248.4 202.1L248.4 199.8L248.5 205.7L248.6 200.4L248.7 203.7L248.7 204.1L248.8 203.9L248.9 201.8L249.0 201.4L249.1 202.5L249.1 201.0L249.2 200.4L249.3 203.3L249.4 201.7L249.4 202.6L249.5 204.2L249.6 201.0L249.7 204.6L249.7 205.1L249.8 202.4L249.9 204.4L250.0 205.1L250.0 205.1L250.1 201.6L250.2 204.6L250.3 204.2L250.3 201.5L250.4 203.1L250.5 202.3L250.6 204.4L250.6 203.0L250.7 201.8L250.8 201.7L250.9 201.6L250.9 203.1L251.0 200.8L251.1 201.4L251.2 203.3L251.3 202.1L251.3 203.3L251.4 203.9L251.5 203.3L251.6 202.8L251.6 202.0L251.7 201.4L251.8 201.7L251.9 203.1L251.9 201.6L252.0 203.5L252.1 201.9L252.2 203.2L252.2 202.3L252.3 200.1L252.4 198.6L252.5 203.0L252.5 201.4L252.6 201.5L252.7 202.3L252.8 205.0L252.8 203.6L252.9 199.4L253.0 202.1L253.1 202.8L253.2 204.0L253.2 203.1L253.3 206.1L253.4 201.4L253.5 205.0L253.5 204.6L253.6 202.1L253.7 203.8L253.8 204.4L253.8 204.1L253.9 206.3L254.0 204.3L254.1 203.6L254.1 202.6L254.2 203.0L254.3 201.9L254.4 205.0L254.4 204.2L254.5 206.0L254.6 201.3L254.7 203.3L254.7 205.5L254.8 202.5L254.9 203.3L255.0 203.6L255.0 203.5L255.1 202.5L255.2 202.1L255.3 204.3L255.4 202.8L255.4 204.3L255.5 201.4L255.6 203.3L255.7 205.7L255.7 204.9L255.8 202.2L255.9 205.6L256.0 203.8L256.0 202.7L256.1 203.6L256.2 202.0L256.3 204.4L256.3 202.6L256.4 201.6L256.5 204.5L256.6 204.2L256.6 201.0L256.7 200.8L256.8 203.6L256.9 203.0L256.9 203.0L257.0 200.3L257.1 203.0L257.2 201.3L257.3 201.9L257.3 204.0L257.4 201.5L257.5 201.8L257.6 202.9L257.6 202.7L257.7 201.1L257.8 201.9L257.9 200.8L257.9 204.8L258.0 202.5L258.1 202.3L258.2 204.3L258.2 204.1L258.3 199.7L258.4 202.1L258.5 202.0L258.5 203.6L258.6 203.5L258.7 202.0L258.8 204.4L258.8 201.1L258.9 202.4L259.0 200.5L259.1 202.5L259.2 200.7L259.2 203.6L259.3 202.8L259.4 202.1L259.5 199.4L259.5 203.9L259.6 203.6L259.7 202.6L259.8 203.7L259.8 201.7L259.9 202.8L260.0 201.9L260.1 202.7L260.1 203.2L260.2 201.9L260.3 204.0L260.4 203.1L260.4 200.8L260.5 203.2L260.6 202.2L260.7 203.6L260.7 200.5L260.8 201.1L260.9 200.5L261.0 201.1L261.0 201.5L261.1 201.4L261.2 201.7L261.3 204.1L261.4 202.2L261.4 201.8L261.5 201.7L261.6 200.6L261.7 202.2L261.7 200.8L261.8 202.8L261.9 203.3L262.0 203.0L262.0 200.2L262.1 201.4L262.2 200.4L262.3 204.7L262.3 200.9L262.4 198.5L262.5 201.4L262.6 199.9L262.6 203.0L262.7 203.3L262.8 203.5L262.9 202.1L262.9 200.7L263.0 203.7L263.1 203.8L263.2 201.5L263.3 200.8L263.3 198.6L263.4 200.4L263.5 200.8L263.6 204.1L263.6 201.5L263.7 200.3L263.8 204.8L263.9 204.0L263.9 198.4L264.0 200.9L264.1 202.4L264.2 203.4L264.2 203.4L264.3 201.5L264.4 203.1L264.5 201.1L264.5 203.7L264.6 202.0L264.7 201.3L264.8 202.3L264.8 201.7L264.9 200.6L265.0 200.4L265.1 202.6L265.2 203.8L265.2 202.4L265.3 201.8L265.4 202.1L265.5 203.1L265.5 201.0L265.6 201.4L265.7 202.3L265.8 200.6L265.8 201.8L265.9 204.5L266.0 204.6L266.1 202.7L266.1 201.0L266.2 202.9L266.3 205.7L266.4 204.6L266.4 202.9L266.5 202.5L266.6 205.4L266.7 203.4L266.7 201.8L266.8 202.5L266.9 202.4L267.0 205.3L267.0 200.4L267.1 203.3L267.2 202.8L267.3 200.2L267.4 204.0L267.4 203.0L267.5 201.9L267.6 203.3L267.7 203.4L267.7 202.8L267.8 200.5L267.9 202.0L268.0 202.6L268.0 203.8L268.1 201.5L268.2 201.7L268.3 204.7L268.3 202.2L268.4 201.8L268.5 203.9L268.6 202.6L268.6 201.2L268.7 204.5L268.8 201.9L268.9 199.6L268.9 201.8L269.0 202.3L269.1 202.7L269.2 202.4L269.3 200.3L269.3 203.6L269.4 200.6L269.5 204.0L269.6 203.6L269.6 203.3L269.7 201.6L269.8 202.7L269.9 199.2L269.9 201.2L270.0 205.0L270.1 201.5L270.2 202.1L270.2 203.8L270.3 202.2L270.4 201.0L270.5 202.3L270.5 204.0L270.6 204.0L270.7 201.7L270.8 200.9L270.8 199.5L270.9 202.1L271.0 203.0L271.1 202.0L271.1 201.4L271.2 204.0L271.3 203.1L271.4 202.2L271.5 200.9L271.5 203.4L271.6 202.0L271.7 199.9L271.8 203.6L271.8 203.1L271.9 202.4L272.0 203.3L272.1 199.9L272.1 204.7L272.2 201.3L272.3 206.3L272.4 204.8L272.4 201.8L272.5 200.3L272.6 203.3L272.7 201.1L272.7 204.4L272.8 203.0L272.9 202.3L273.0 202.5L273.0 204.2L273.1 201.2L273.2 203.6L273.3 204.0L273.4 203.6L273.4 200.2L273.5 204.0L273.6 203.7L273.7 202.1L273.7 202.2L273.8 204.7L273.9 203.2L274.0 202.7L274.0 205.1L274.1 201.2L274.2 204.6L274.3 203.9L274.3 201.2L274.4 202.4L274.5 200.4L274.6 203.0L274.6 201.5L274.7 203.9L274.8 200.5L274.9 204.4L274.9 204.1L275.0 203.5L275.1 201.7L275.2 203.7L275.3 205.1L275.3 202.1L275.4 201.4L275.5 205.0L275.6 204.2L275.6 201.6L275.7 204.9L275.8 203.5L275.9 205.0L275.9 204.1L276.0 203.8L276.1 206.7L276.2 202.8L276.2 203.9L276.3 203.3L276.4 205.2L276.5 203.0L276.5 202.5L276.6 203.6L276.7 203.4L276.8 202.3L276.8 200.2L276.9 202.9L277.0 203.6L277.1 201.3L277.1 202.9L277.2 204.3L277.3 203.5L277.4 202.1L277.5 205.9L277.5 204.0L277.6 202.1L277.7 204.0L277.8 205.1L277.8 200.0L277.9 203.0L278.0 205.3L278.1 203.5L278.1 203.6L278.2 203.1L278.3 203.3L278.4 203.3L278.4 200.4L278.5 201.9L278.6 202.8L278.7 203.1L278.7 202.8L278.8 204.9L278.9 204.2L279.0 201.7L279.0 201.1L279.1 203.5L279.2 202.7L279.3 200.1L279.4 202.5L279.4 204.3L279.5 204.4L279.6 202.4L279.7 204.3L279.7 203.7L279.8 202.6L279.9 204.1L280.0 203.7L280.0 202.6L280.1 203.1L280.2 202.7L280.3 201.9L280.3 203.2L280.4 202.4L280.5 203.1L280.6 204.9L280.6 205.6L280.7 204.9L280.8 203.9L280.9 205.0L280.9 205.3L281.0 206.1L281.1 204.3L281.2 203.3L281.2 202.2L281.3 201.9L281.4 201.4L281.5 201.3L281.6 202.2L281.6 202.5L281.7 201.3L281.8 202.4L281.9 203.3L281.9 203.2L282.0 205.2L282.1 201.2L282.2 201.3L282.2 205.0L282.3 203.3L282.4 201.2L282.5 202.7L282.5 199.9L282.6 204.7L282.7 201.5L282.8 200.5L282.8 202.9L282.9 202.9L283.0 199.5L283.1 204.2L283.1 202.6L283.2 205.1L283.3 202.0L283.4 202.3L283.5 201.7L283.5 203.0L283.6 202.8L283.7 203.3L283.8 204.1L283.8 201.8L283.9 202.1L284.0 200.1L284.1 202.6L284.1 202.0L284.2 201.6L284.3 201.4L284.4 202.9L284.4 201.7L284.5 201.9L284.6 202.8L284.7 205.5L284.7 202.9L284.8 201.2L284.9 202.1L285.0 203.9L285.0 201.6L285.1 203.9L285.2 201.5L285.3 201.8L285.4 202.1L285.4 199.3L285.5 201.6L285.6 201.2L285.7 204.2L285.7 203.8L285.8 204.6L285.9 204.0L286.0 201.9L286.0 201.4L286.1 202.9L286.2 201.8L286.3 204.2L286.3 202.1L286.4 200.0L286.5 204.1L286.6 204.2L286.6 203.7L286.7 201.0L286.8 202.5L286.9 205.9L286.9 202.5L287.0 201.3L287.1 202.5L287.2 201.8L287.2 203.2L287.3 202.9L287.4 204.2L287.5 203.8L287.6 203.1L287.6 200.0L287.7 204.9L287.8 201.7L287.9 204.2L287.9 205.7L288.0 200.2L288.1 200.5L288.2 200.9L288.2 201.6L288.3 203.2L288.4 202.0L288.5 203.8L288.5 202.4L288.6 205.8L288.7 204.6L288.8 205.2L288.8 202.8L288.9 199.2L289.0 203.8L289.1 204.1L289.1 201.4L289.2 199.2L289.3 204.3L289.4 199.8L289.5 202.9L289.5 201.9L289.6 202.5L289.7 201.5L289.8 203.0L289.8 200.6L289.9 202.9L290.0 202.3L290.1 204.1L290.1 203.5L290.2 201.4L290.3 203.9L290.4 203.3L290.4 200.8L290.5 203.1L290.6 200.7L290.7 199.2L290.7 203.6L290.8 201.9L290.9 203.0L291.0 201.5L291.0 201.3L291.1 203.5L291.2 203.6L291.3 204.3L291.3 203.9L291.4 204.8L291.5 202.1L291.6 202.9L291.7 200.9L291.7 201.9L291.8 203.2L291.9 202.4L292.0 201.6L292.0 202.1L292.1 201.4L292.2 202.5L292.3 204.6L292.3 202.8L292.4 203.5L292.5 200.4L292.6 206.0L292.6 202.5L292.7 205.5L292.8 202.8L292.9 203.7L292.9 203.9L293.0 201.6L293.1 201.4L293.2 204.6L293.2 204.0L293.3 201.6L293.4 203.6L293.5 204.3L293.6 203.7L293.6 204.9L293.7 204.6L293.8 203.7L293.9 202.1L293.9 203.8L294.0 202.4L294.1 205.2L294.2 201.9L294.2 204.8L294.3 203.2L294.4 201.1L294.5 205.8L294.5 202.0L294.6 204.7L294.7 201.3L294.8 202.9L294.8 202.6L294.9 202.5L295.0 202.8L295.1 202.9L295.1 204.7L295.2 204.1L295.3 204.3L295.4 201.0L295.5 203.2L295.5 204.0L295.6 205.2L295.7 200.3L295.8 201.2L295.8 202.8L295.9 202.5L296.0 203.7L296.1 203.3L296.1 199.7L296.2 204.5L296.3 202.6L296.4 202.5L296.4 201.1L296.5 203.8L296.6 200.3L296.7 202.8L296.7 200.0L296.8 201.0L296.9 204.2L297.0 200.8L297.0 203.7L297.1 201.7L297.2 203.3L297.3 201.6L297.3 203.4L297.4 205.1L297.5 201.7L297.6 200.6L297.7 201.7L297.7 203.2L297.8 200.3L297.9 201.8L298.0 204.7L298.0 201.0L298.1 204.6L298.2 203.6L298.3 203.8L298.3 203.5L298.4 201.3L298.5 204.1L298.6 202.3L298.6 204.1L298.7 202.6L298.8 202.0L298.9 202.2L298.9 204.2L299.0 203.5L299.1 202.7L299.2 203.8L299.2 200.7L299.3 204.3L299.4 202.0L299.5 202.5L299.6 205.4L299.6 200.2L299.7 202.2L299.8 205.0L299.9 203.2L299.9 202.3L300.0 202.6L300.1 204.5L300.2 202.2L300.2 203.6L300.3 201.4L300.4 204.1L300.5 203.5L300.5 201.6L300.6 205.1L300.7 199.9L300.8 203.0L300.8 202.6L300.9 205.5L301.0 204.3L301.1 199.9L301.1 204.4L301.2 203.4L301.3 202.3L301.4 201.6L301.4 201.8L301.5 201.8L301.6 204.3L301.7 201.9L301.8 205.7L301.8 202.5L301.9 201.9L302.0 202.5L302.1 203.4L302.1 203.6L302.2 200.4L302.3 203.9L302.4 202.5L302.4 205.4L302.5 203.2L302.6 203.4L302.7 203.5L302.7 201.8L302.8 205.2L302.9 203.6L303.0 203.3L303.0 202.8L303.1 202.2L303.2 204.6L303.3 202.8L303.3 203.0L303.4 205.1L303.5 204.4L303.6 200.4L303.7 202.3L303.7 206.5L303.8 205.2L303.9 206.0L304.0 204.8L304.0 204.6L304.1 204.9L304.2 203.0L304.3 205.8L304.3 204.3L304.4 202.6L304.5 203.8L304.6 203.2L304.6 203.6L304.7 206.7L304.8 203.8L304.9 203.5L304.9 203.4L305.0 202.0L305.1 206.0L305.2 204.9L305.2 203.3L305.3 201.5L305.4 203.0L305.5 201.6L305.6 203.1L305.6 202.6L305.7 204.4L305.8 202.1L305.9 200.4L305.9 200.2L306.0 204.3L306.1 204.3L306.2 205.2L306.2 203.9L306.3 202.0L306.4 203.8L306.5 200.2L306.5 203.1L306.6 200.7L306.7 202.0L306.8 204.8L306.8 202.3L306.9 202.1L307.0 203.4L307.1 202.6L307.1 203.8L307.2 203.9L307.3 202.6L307.4 202.5L307.4 202.3L307.5 204.7L307.6 201.5L307.7 202.9L307.8 201.8L307.8 201.9L307.9 203.5L308.0 201.8L308.1 201.7L308.1 203.3L308.2 202.1L308.3 203.0L308.4 202.0L308.4 204.3L308.5 204.1L308.6 199.4L308.7 201.0L308.7 202.5L308.8 198.5L308.9 202.1L309.0 202.2L309.0 202.1L309.1 202.1L309.2 202.6L309.3 199.4L309.3 202.7L309.4 201.8L309.5 202.9L309.6 202.9L309.7 204.1L309.7 201.5L309.8 201.3L309.9 202.0L310.0 202.9L310.0 200.4L310.1 201.4L310.2 202.0L310.3 202.1L310.3 203.6L310.4 202.5L310.5 201.1L310.6 201.9L310.6 201.3L310.7 204.4L310.8 203.1L310.9 205.2L310.9 202.5L311.0 203.0L311.1 203.4L311.2 201.1L311.2 202.1L311.3 199.6L311.4 202.0L311.5 204.9L311.5 202.4L311.6 202.2L311.7 200.5L311.8 203.1L311.9 201.8L311.9 202.7L312.0 201.9L312.1 200.2L312.2 199.4L312.2 204.7L312.3 199.8L312.4 201.9L312.5 198.6L312.5 201.1L312.6 199.7L312.7 201.8L312.8 202.4L312.8 200.1L312.9 198.8L313.0 200.4L313.1 200.0L313.1 202.4L313.2 201.9L313.3 203.1L313.4 203.0L313.4 200.9L313.5 202.9L313.6 203.2L313.7 202.4L313.8 201.8L313.8 198.9L313.9 201.8L314.0 201.3L314.1 204.3L314.1 204.7L314.2 202.1L314.3 202.9L314.4 202.5L314.4 202.9L314.5 202.1L314.6 203.3L314.7 204.8L314.7 201.9L314.8 200.1L314.9 202.3L315.0 199.6L315.0 202.8L315.1 202.0L315.2 202.2L315.3 204.1L315.3 203.1L315.4 203.9L315.5 204.3L315.6 200.6L315.7 203.6L315.7 204.7L315.8 203.1L315.9 202.5L316.0 201.7L316.0 200.8L316.1 200.8L316.2 201.9L316.3 199.0L316.3 198.9L316.4 201.2L316.5 202.7L316.6 202.9L316.6 201.3L316.7 203.3L316.8 204.1L316.9 203.3L316.9 204.3L317.0 204.1L317.1 200.2L317.2 201.3L317.2 203.6L317.3 202.1L317.4 202.3L317.5 202.7L317.5 202.4L317.6 200.4L317.7 200.8L317.8 201.7L317.9 203.7L317.9 202.5L318.0 201.4L318.1 201.0L318.2 202.3L318.2 200.9L318.3 203.9L318.4 204.4L318.5 204.5L318.5 201.9L318.6 203.3L318.7 201.5L318.8 202.0L318.8 202.4L318.9 202.1L319.0 201.7L319.1 199.7L319.1 200.6L319.2 200.1L319.3 201.3L319.4 201.2L319.4 201.8L319.5 201.9L319.6 200.5L319.7 202.1L319.8 202.4L319.8 201.4L319.9 204.1L320.0 201.4L320.1 204.0L320.1 203.5L320.2 201.7L320.3 200.9L320.4 202.8L320.4 204.0L320.5 204.5L320.6 203.1L320.7 202.9L320.7 202.8L320.8 201.1L320.9 204.9L321.0 203.0L321.0 202.5L321.1 201.9L321.2 204.5L321.3 204.8L321.3 202.0L321.4 205.2L321.5 202.6L321.6 203.8L321.6 203.9L321.7 204.3L321.8 204.4L321.9 200.8L322.0 203.2L322.0 201.5L322.1 205.0L322.2 202.7L322.3 201.7L322.3 202.0L322.4 200.4L322.5 203.8L322.6 202.4L322.6 201.7L322.7 202.7L322.8 202.9L322.9 204.8L322.9 203.9L323.0 203.6L323.1 202.5L323.2 202.2L323.2 205.0L323.3 201.7L323.4 201.9L323.5 202.9L323.5 203.6L323.6 201.2L323.7 202.6L323.8 202.4L323.9 201.3L323.9 204.1L324.0 206.1L324.1 204.8L324.2 203.4L324.2 202.3L324.3 202.7L324.4 201.8L324.5 201.9L324.5 203.5L324.6 205.7L324.7 201.9L324.8 201.9L324.8 201.5L324.9 203.8L325.0 204.4L325.1 203.2L325.1 202.0L325.2 205.2L325.3 203.0L325.4 201.7L325.4 200.1L325.5 203.6L325.6 202.0L325.7 202.2L325.8 201.5L325.8 201.4L325.9 204.9L326.0 204.2L326.1 202.6L326.1 199.7L326.2 201.4L326.3 200.1L326.4 200.1L326.4 201.5L326.5 201.2L326.6 200.7L326.7 202.9L326.7 200.5L326.8 202.9L326.9 202.0L327.0 202.7L327.0 204.3L327.1 201.5L327.2 201.8L327.3 203.3L327.3 201.7L327.4 199.9L327.5 203.4L327.6 201.1L327.6 201.4L327.7 202.5L327.8 202.9L327.9 202.2L328.0 202.4L328.0 201.5L328.1 201.8L328.2 201.1L328.3 202.5L328.3 203.5L328.4 202.2L328.5 201.8L328.6 203.2L328.6 202.1L328.7 202.8L328.8 202.1L328.9 200.1L328.9 202.0L329.0 202.2L329.1 204.3L329.2 198.9L329.2 203.8L329.3 201.2L329.4 202.3L329.5 202.1L329.5 201.5L329.6 204.5L329.7 202.1L329.8 201.4L329.9 203.4L329.9 203.2L330.0 203.9L330.1 202.1L330.2 200.0L330.2 204.7L330.3 202.8L330.4 204.2L330.5 204.5L330.5 202.9L330.6 203.1L330.7 203.1L330.8 202.2L330.8 200.3L330.9 200.1L331.0 202.2L331.1 202.9L331.1 203.3L331.2 202.0L331.3 202.0L331.4 200.4L331.4 203.2L331.5 202.1L331.6 204.0L331.7 202.3L331.7 200.6L331.8 202.1L331.9 204.9L332.0 202.2L332.1 205.0L332.1 204.8L332.2 203.5L332.3 200.3L332.4 201.4L332.4 202.2L332.5 204.8L332.6 201.9L332.7 204.8L332.7 204.1L332.8 202.5L332.9 203.1L333.0 203.2L333.0 201.8L333.1 202.6L333.2 205.5L333.3 205.2L333.3 203.9L333.4 202.7L333.5 202.2L333.6 203.3L333.6 203.4L333.7 201.8L333.8 204.9L333.9 203.7L334.0 203.2L334.0 201.7L334.1 203.2L334.2 203.4L334.3 203.1L334.3 202.2L334.4 202.3L334.5 204.2L334.6 205.0L334.6 199.9L334.7 202.8L334.8 202.5L334.9 200.5L334.9 202.3L335.0 203.6L335.1 204.6L335.2 202.6L335.2 204.4L335.3 199.6L335.4 203.3L335.5 200.1L335.5 204.0L335.6 201.1L335.7 201.0L335.8 201.9L335.9 201.7L335.9 202.6L336.0 201.9L336.1 200.6L336.2 200.8L336.2 203.4L336.3 203.1L336.4 203.0L336.5 205.0L336.5 202.3L336.6 201.8L336.7 205.0L336.8 202.3L336.8 203.5L336.9 202.3L337.0 202.3L337.1 200.3L337.1 200.1L337.2 200.4L337.3 200.0L337.4 202.3L337.4 203.8L337.5 203.8L337.6 199.7L337.7 200.8L337.7 200.3L337.8 201.0L337.9 201.4L338.0 205.5L338.1 202.7L338.1 204.0L338.2 202.1L338.3 201.3L338.4 203.0L338.4 202.9L338.5 201.2L338.6 202.6L338.7 202.3L338.7 203.7L338.8 204.9L338.9 203.9L339.0 203.2L339.0 203.9L339.1 202.0L339.2 204.0L339.3 203.1L339.3 202.0L339.4 203.0L339.5 202.4L339.6 201.7L339.6 204.7L339.7 201.9L339.8 202.8L339.9 202.3L340.0 202.9L340.0 205.7L340.1 204.8L340.2 203.8L340.3 203.5L340.3 204.1L340.4 201.9L340.5 205.1L340.6 203.5L340.6 203.1L340.7 202.5L340.8 202.2L340.9 202.8L340.9 203.5L341.0 205.6L341.1 203.0" fill="none" stroke="#4a4a4a" stroke-width="1.05" stroke-linejoin="round"/>
<path d="M82.5 135.8L82.6 137.2L82.7 136.6L82.7 134.6L82.8 138.8L82.9 135.7L83.0 134.6L83.0 136.8L83.1 136.5L83.2 138.0L83.3 135.8L83.3 136.3L83.4 134.9L83.5 135.6L83.6 135.0L83.7 136.7L83.7 136.6L83.8 136.3L83.9 136.3L84.0 138.4L84.0 135.1L84.1 135.6L84.2 137.9L84.3 137.5L84.3 136.7L84.4 135.8L84.5 136.7L84.6 135.8L84.6 134.4L84.7 136.8L84.8 134.6L84.9 135.8L84.9 134.3L85.0 134.8L85.1 136.2L85.2 136.0L85.2 132.7L85.3 133.4L85.4 133.9L85.5 133.8L85.6 135.5L85.6 131.8L85.7 133.4L85.8 136.9L85.9 131.7L85.9 133.5L86.0 136.3L86.1 134.2L86.2 133.5L86.2 132.5L86.3 133.6L86.4 135.3L86.5 136.6L86.5 134.2L86.6 136.6L86.7 133.9L86.8 138.6L86.8 131.4L86.9 136.4L87.0 134.6L87.1 133.7L87.1 132.1L87.2 131.6L87.3 135.7L87.4 132.5L87.5 134.3L87.5 136.3L87.6 136.1L87.7 135.8L87.8 135.0L87.8 135.0L87.9 133.7L88.0 135.7L88.1 132.8L88.1 135.6L88.2 137.5L88.3 135.1L88.4 134.7L88.4 138.9L88.5 134.8L88.6 135.1L88.7 132.1L88.7 134.5L88.8 139.1L88.9 138.2L89.0 139.1L89.0 133.6L89.1 137.5L89.2 134.2L89.3 137.3L89.3 136.9L89.4 137.1L89.5 134.6L89.6 135.6L89.7 137.2L89.7 137.8L89.8 134.7L89.9 134.2L90.0 135.1L90.0 135.5L90.1 137.6L90.2 138.5L90.3 135.7L90.3 133.6L90.4 135.0L90.5 137.3L90.6 134.9L90.6 134.0L90.7 134.5L90.8 139.6L90.9 137.1L90.9 136.9L91.0 134.5L91.1 138.7L91.2 139.5L91.2 135.0L91.3 135.7L91.4 134.4L91.5 137.6L91.6 133.3L91.6 136.4L91.7 136.0L91.8 136.5L91.9 138.3L91.9 133.5L92.0 136.1L92.1 136.1L92.2 137.3L92.2 135.8L92.3 137.6L92.4 138.2L92.5 139.8L92.5 137.4L92.6 136.2L92.7 136.1L92.8 137.3L92.8 134.7L92.9 138.3L93.0 138.4L93.1 134.8L93.1 137.0L93.2 137.5L93.3 135.0L93.4 139.2L93.4 135.1L93.5 138.5L93.6 137.0L93.7 137.3L93.8 139.5L93.8 138.6L93.9 132.9L94.0 136.7L94.1 137.0L94.1 133.1L94.2 137.6L94.3 135.4L94.4 137.4L94.4 136.5L94.5 137.1L94.6 137.4L94.7 134.0L94.7 135.8L94.8 137.0L94.9 138.8L95.0 137.1L95.0 136.6L95.1 134.3L95.2 133.8L95.3 138.1L95.3 138.2L95.4 134.9L95.5 139.3L95.6 133.0L95.7 136.5L95.7 136.7L95.8 136.8L95.9 136.6L96.0 136.6L96.0 134.6L96.1 137.3L96.2 137.1L96.3 137.1L96.3 137.4L96.4 134.5L96.5 135.0L96.6 139.5L96.6 136.1L96.7 134.0L96.8 136.6L96.9 136.5L96.9 135.0L97.0 137.6L97.1 134.4L97.2 134.5L97.2 134.6L97.3 134.9L97.4 136.5L97.5 135.1L97.6 136.5L97.6 134.0L97.7 138.0L97.8 138.2L97.9 137.2L97.9 139.4L98.0 137.0L98.1 132.8L98.2 132.6L98.2 136.7L98.3 133.4L98.4 135.4L98.5 137.6L98.5 136.9L98.6 134.8L98.7 136.0L98.8 139.7L98.8 136.4L98.9 136.6L99.0 136.7L99.1 136.0L99.1 136.3L99.2 137.4L99.3 137.2L99.4 135.7L99.4 140.1L99.5 136.8L99.6 134.6L99.7 135.7L99.8 134.7L99.8 136.7L99.9 136.7L100.0 139.8L100.1 134.9L100.1 138.3L100.2 135.6L100.3 136.6L100.4 138.3L100.4 139.7L100.5 137.8L100.6 137.8L100.7 136.7L100.7 132.9L100.8 139.4L100.9 138.0L101.0 138.3L101.0 139.0L101.1 137.9L101.2 136.9L101.3 134.7L101.3 136.1L101.4 138.1L101.5 132.7L101.6 137.7L101.7 138.3L101.7 136.9L101.8 136.4L101.9 139.2L102.0 136.4L102.0 138.4L102.1 134.8L102.2 136.1L102.3 136.0L102.3 132.9L102.4 137.3L102.5 136.9L102.6 136.4L102.6 136.9L102.7 138.1L102.8 135.1L102.9 134.5L102.9 134.3L103.0 136.4L103.1 136.5L103.2 136.5L103.2 135.2L103.3 138.1L103.4 133.7L103.5 136.1L103.5 135.8L103.6 133.9L103.7 134.1L103.8 137.0L103.9 136.4L103.9 134.2L104.0 135.2L104.1 136.1L104.2 136.8L104.2 138.2L104.3 136.5L104.4 136.6L104.5 137.5L104.5 135.7L104.6 136.4L104.7 135.6L104.8 136.2L104.8 137.5L104.9 138.7L105.0 136.4L105.1 137.5L105.1 133.7L105.2 138.4L105.3 135.1L105.4 138.2L105.4 137.7L105.5 137.5L105.6 132.8L105.7 137.9L105.8 135.9L105.8 134.3L105.9 136.7L106.0 136.4L106.1 134.7L106.1 137.0L106.2 135.0L106.3 134.8L106.4 139.6L106.4 135.9L106.5 138.4L106.6 137.4L106.7 135.7L106.7 137.8L106.8 140.0L106.9 134.6L107.0 140.1L107.0 135.9L107.1 134.4L107.2 136.0L107.3 137.3L107.3 137.9L107.4 137.2L107.5 134.0L107.6 135.7L107.7 139.0L107.7 135.5L107.8 134.4L107.9 136.0L108.0 138.7L108.0 138.3L108.1 137.2L108.2 137.6L108.3 134.7L108.3 137.4L108.4 134.4L108.5 134.9L108.6 135.2L108.6 134.1L108.7 138.1L108.8 137.9L108.9 133.4L108.9 136.8L109.0 135.4L109.1 136.5L109.2 136.3L109.2 136.3L109.3 136.8L109.4 135.6L109.5 139.5L109.5 134.6L109.6 133.5L109.7 136.8L109.8 132.9L109.9 136.4L109.9 135.2L110.0 136.4L110.1 136.0L110.2 138.8L110.2 136.9L110.3 138.2L110.4 138.3L110.5 138.8L110.5 136.2L110.6 136.2L110.7 137.4L110.8 135.4L110.8 139.4L110.9 135.2L111.0 134.2L111.1 132.4L111.1 135.4L111.2 134.2L111.3 136.8L111.4 134.9L111.4 137.8L111.5 135.7L111.6 134.8L111.7 133.2L111.8 136.6L111.8 134.6L111.9 133.3L112.0 133.9L112.1 137.6L112.1 132.3L112.2 136.6L112.3 137.4L112.4 136.1L112.4 134.7L112.5 137.5L112.6 136.4L112.7 132.6L112.7 137.2L112.8 135.9L112.9 134.0L113.0 138.5L113.0 135.4L113.1 135.1L113.2 137.7L113.3 140.0L113.3 134.4L113.4 134.0L113.5 136.0L113.6 138.5L113.6 135.2L113.7 136.6L113.8 135.8L113.9 136.5L114.0 137.0L114.0 137.5L114.1 136.2L114.2 136.8L114.3 136.5L114.3 133.1L114.4 134.5L114.5 135.1L114.6 135.4L114.6 134.1L114.7 135.0L114.8 135.3L114.9 138.4L114.9 136.0L115.0 137.4L115.1 137.1L115.2 135.6L115.2 137.0L115.3 136.9L115.4 134.6L115.5 134.7L115.5 134.7L115.6 135.2L115.7 137.8L115.8 136.9L115.9 137.7L115.9 136.8L116.0 135.6L116.1 138.6L116.2 134.6L116.2 138.0L116.3 135.4L116.4 135.3L116.5 135.7L116.5 136.8L116.6 136.3L116.7 139.3L116.8 135.2L116.8 136.1L116.9 134.9L117.0 136.5L117.1 138.2L117.1 136.0L117.2 134.2L117.3 135.1L117.4 136.6L117.4 138.4L117.5 133.8L117.6 137.3L117.7 134.6L117.8 134.0L117.8 136.1L117.9 139.1L118.0 132.3L118.1 136.8L118.1 135.2L118.2 137.3L118.3 132.8L118.4 134.9L118.4 132.9L118.5 133.1L118.6 136.6L118.7 136.7L118.7 138.7L118.8 137.9L118.9 133.4L119.0 132.2L119.0 133.5L119.1 136.6L119.2 136.0L119.3 135.5L119.3 135.7L119.4 136.7L119.5 138.1L119.6 134.2L119.6 136.1L119.7 133.9L119.8 134.4L119.9 136.2L120.0 136.1L120.0 136.6L120.1 136.4L120.2 136.9L120.3 136.5L120.3 135.7L120.4 138.0L120.5 139.0L120.6 136.1L120.6 139.3L120.7 135.6L120.8 138.3L120.9 137.3L120.9 135.7L121.0 136.7L121.1 140.8L121.2 139.5L121.2 138.6L121.3 137.6L121.4 135.8L121.5 137.2L121.5 136.1L121.6 137.3L121.7 135.5L121.8 136.4L121.9 139.1L121.9 139.8L122.0 135.6L122.1 134.2L122.2 138.7L122.2 135.3L122.3 135.4L122.4 136.9L122.5 135.4L122.5 136.3L122.6 138.5L122.7 135.8L122.8 137.0L122.8 135.8L122.9 134.7L123.0 138.1L123.1 136.1L123.1 132.8L123.2 137.0L123.3 137.6L123.4 136.1L123.4 139.6L123.5 133.7L123.6 132.6L123.7 135.6L123.7 137.3L123.8 137.7L123.9 136.6L124.0 139.4L124.1 135.6L124.1 134.4L124.2 137.0L124.3 134.8L124.4 138.6L124.4 134.4L124.5 137.5L124.6 134.6L124.7 137.0L124.7 133.5L124.8 133.0L124.9 135.0L125.0 135.9L125.0 136.7L125.1 132.9L125.2 135.1L125.3 137.1L125.3 133.8L125.4 132.5L125.5 135.8L125.6 135.4L125.6 133.7L125.7 136.3L125.8 137.4L125.9 134.7L126.0 138.6L126.0 137.0L126.1 138.8L126.2 137.1L126.3 137.8L126.3 137.6L126.4 136.0L126.5 139.9L126.6 135.0L126.6 134.7L126.7 136.9L126.8 138.6L126.9 138.8L126.9 136.3L127.0 136.8L127.1 136.4L127.2 134.1L127.2 135.2L127.3 137.9L127.4 138.1L127.5 135.7L127.5 136.3L127.6 138.2L127.7 134.6L127.8 134.9L127.9 135.4L127.9 134.2L128.0 138.9L128.1 135.5L128.2 135.4L128.2 136.3L128.3 136.3L128.4 136.4L128.5 135.8L128.5 136.2L128.6 137.0L128.7 135.6L128.8 136.2L128.8 134.9L128.9 138.8L129.0 134.8L129.1 136.6L129.1 135.5L129.2 135.4L129.3 136.6L129.4 135.8L129.4 136.7L129.5 134.2L129.6 138.0L129.7 137.4L129.7 134.3L129.8 134.5L129.9 135.0L130.0 134.5L130.1 135.4L130.1 134.5L130.2 134.7L130.3 136.3L130.4 137.0L130.4 135.7L130.5 137.7L130.6 135.9L130.7 135.0L130.7 134.0L130.8 137.8L130.9 135.7L131.0 137.0L131.0 139.1L131.1 136.5L131.2 134.9L131.3 134.4L131.3 133.7L131.4 136.4L131.5 135.6L131.6 136.1L131.6 136.6L131.7 134.7L131.8 136.7L131.9 137.7L132.0 139.0L132.0 135.5L132.1 133.8L132.2 135.6L132.3 137.4L132.3 135.0L132.4 136.0L132.5 136.0L132.6 137.8L132.6 136.7L132.7 139.9L132.8 134.0L132.9 140.2L132.9 137.5L133.0 137.2L133.1 136.0L133.2 136.0L133.2 134.9L133.3 135.7L133.4 135.7L133.5 134.5L133.5 135.9L133.6 135.2L133.7 134.8L133.8 138.7L133.8 137.0L133.9 135.7L134.0 135.9L134.1 135.8L134.2 137.5L134.2 135.5L134.3 136.2L134.4 137.7L134.5 133.8L134.5 134.5L134.6 139.3L134.7 135.0L134.8 137.5L134.8 138.2L134.9 135.7L135.0 133.5L135.1 137.7L135.1 136.8L135.2 134.9L135.3 135.0L135.4 136.5L135.4 135.2L135.5 137.5L135.6 136.2L135.7 135.5L135.7 136.4L135.8 137.4L135.9 138.1L136.0 137.0L136.1 134.0L136.1 134.5L136.2 139.4L136.3 137.5L136.4 134.6L136.4 136.7L136.5 135.8L136.6 138.9L136.7 135.5L136.7 135.9L136.8 137.0L136.9 136.6L137.0 135.1L137.0 135.3L137.1 138.4L137.2 133.4L137.3 136.7L137.3 134.3L137.4 137.9L137.5 137.6L137.6 137.8L137.6 134.0L137.7 139.0L137.8 137.1L137.9 138.7L138.0 139.0L138.0 135.1L138.1 137.4L138.2 136.0L138.3 138.6L138.3 136.6L138.4 138.1L138.5 137.8L138.6 138.3L138.6 135.2L138.7 135.7L138.8 133.4L138.9 136.0L138.9 135.7L139.0 136.7L139.1 135.2L139.2 139.2L139.2 134.5L139.3 138.3L139.4 136.4L139.5 138.3L139.5 137.1L139.6 135.5L139.7 136.6L139.8 136.1L139.8 135.8L139.9 136.6L140.0 137.2L140.1 134.3L140.2 135.2L140.2 135.9L140.3 136.9L140.4 135.3L140.5 135.4L140.5 132.4L140.6 135.0L140.7 135.9L140.8 132.2L140.8 133.6L140.9 126.3L141.0 131.3L141.1 125.2L141.1 126.5L141.2 125.2L141.3 125.8L141.4 125.8L141.4 128.0L141.5 131.5L141.6 133.1L141.7 134.9L141.7 137.8L141.8 134.1L141.9 138.6L142.0 136.3L142.1 136.7L142.1 137.5L142.2 136.5L142.3 136.9L142.4 135.4L142.4 139.2L142.5 134.9L142.6 135.7L142.7 137.6L142.7 135.8L142.8 137.8L142.9 138.7L143.0 137.6L143.0 136.0L143.1 135.2L143.2 136.4L143.3 135.7L143.3 137.9L143.4 133.5L143.5 134.3L143.6 133.4L143.6 135.0L143.7 135.1L143.8 137.9L143.9 134.3L143.9 137.2L144.0 135.2L144.1 136.6L144.2 137.9L144.3 137.6L144.3 139.3L144.4 138.6L144.5 137.0L144.6 134.6L144.6 138.5L144.7 138.3L144.8 136.1L144.9 138.3L144.9 137.0L145.0 138.4L145.1 138.5L145.2 137.5L145.2 136.4L145.3 138.9L145.4 141.0L145.5 135.7L145.5 133.8L145.6 137.3L145.7 139.3L145.8 138.2L145.8 138.8L145.9 136.9L146.0 138.6L146.1 133.6L146.2 136.2L146.2 137.6L146.3 134.4L146.4 135.7L146.5 138.5L146.5 133.5L146.6 138.7L146.7 137.8L146.8 137.6L146.8 136.1L146.9 136.2L147.0 138.7L147.1 135.6L147.1 134.4L147.2 139.1L147.3 134.2L147.4 134.0L147.4 138.0L147.5 133.7L147.6 136.0L147.7 134.9L147.7 137.2L147.8 138.0L147.9 135.6L148.0 138.2L148.1 135.8L148.1 137.0L148.2 135.4L148.3 136.1L148.4 137.6L148.4 134.5L148.5 134.2L148.6 134.8L148.7 135.4L148.7 136.8L148.8 134.6L148.9 134.6L149.0 133.5L149.0 133.7L149.1 138.5L149.2 137.4L149.3 139.0L149.3 136.6L149.4 136.2L149.5 135.6L149.6 134.7L149.6 138.3L149.7 136.7L149.8 137.9L149.9 136.4L149.9 139.9L150.0 138.3L150.1 134.8L150.2 135.9L150.3 135.0L150.3 138.3L150.4 139.1L150.5 136.1L150.6 136.3L150.6 136.4L150.7 138.7L150.8 137.2L150.9 136.3L150.9 138.3L151.0 139.8L151.1 135.4L151.2 134.9L151.2 132.8L151.3 134.7L151.4 134.8L151.5 136.8L151.5 134.0L151.6 138.1L151.7 133.2L151.8 139.0L151.8 134.8L151.9 135.5L152.0 136.8L152.1 135.3L152.2 136.1L152.2 133.6L152.3 133.7L152.4 134.0L152.5 134.9L152.5 135.7L152.6 136.8L152.7 135.3L152.8 133.9L152.8 136.4L152.9 136.4L153.0 136.5L153.1 135.9L153.1 134.5L153.2 138.7L153.3 135.4L153.4 132.9L153.4 138.0L153.5 133.7L153.6 135.2L153.7 132.0L153.7 138.1L153.8 135.0L153.9 134.8L154.0 132.9L154.0 133.6L154.1 138.3L154.2 136.0L154.3 135.6L154.4 134.9L154.4 137.0L154.5 134.5L154.6 135.7L154.7 135.3L154.7 134.8L154.8 134.9L154.9 136.2L155.0 135.0L155.0 134.8L155.1 135.7L155.2 137.7L155.3 135.6L155.3 135.7L155.4 138.2L155.5 134.3L155.6 135.0L155.6 137.4L155.7 134.3L155.8 136.5L155.9 135.9L155.9 134.8L156.0 137.5L156.1 137.0L156.2 133.3L156.3 132.9L156.3 136.3L156.4 132.4L156.5 137.1L156.6 133.6L156.6 133.5L156.7 135.4L156.8 134.3L156.9 134.6L156.9 133.2L157.0 134.2L157.1 135.2L157.2 130.7L157.2 129.8L157.3 126.0L157.4 118.3L157.5 109.2L157.5 98.7L157.6 80.3L157.7 65.7L157.8 43.7L157.8 22.9L157.9 14.7L158.0 6.8L158.1 14.2L158.2 24.2L158.2 44.6L158.3 63.8L158.4 86.3L158.5 98.7L158.5 109.2L158.6 117.8L158.7 123.2L158.8 127.3L158.8 129.6L158.9 133.4L159.0 132.0L159.1 135.0L159.1 135.2L159.2 134.7L159.3 135.9L159.4 132.4L159.4 135.8L159.5 134.0L159.6 133.7L159.7 134.8L159.7 137.7L159.8 137.0L159.9 136.1L160.0 137.0L160.0 133.5L160.1 135.7L160.2 137.2L160.3 135.7L160.4 137.1L160.4 136.9L160.5 137.4L160.6 134.4L160.7 136.8L160.7 138.4L160.8 138.2L160.9 137.5L161.0 136.7L161.0 133.0L161.1 137.3L161.2 135.8L161.3 136.5L161.3 135.1L161.4 134.8L161.5 134.9L161.6 134.3L161.6 136.8L161.7 138.4L161.8 137.4L161.9 138.1L161.9 139.3L162.0 137.5L162.1 134.8L162.2 134.1L162.3 134.4L162.3 134.5L162.4 136.8L162.5 136.9L162.6 133.0L162.6 133.6L162.7 136.6L162.8 136.4L162.9 136.4L162.9 136.1L163.0 136.3L163.1 136.5L163.2 135.4L163.2 135.9L163.3 137.7L163.4 135.7L163.5 135.9L163.5 136.1L163.6 135.9L163.7 137.5L163.8 136.0L163.8 136.1L163.9 136.4L164.0 135.0L164.1 134.0L164.1 137.4L164.2 136.6L164.3 138.2L164.4 135.0L164.5 136.7L164.5 137.0L164.6 135.8L164.7 136.4L164.8 135.7L164.8 138.5L164.9 135.6L165.0 137.6L165.1 136.0L165.1 138.5L165.2 135.7L165.3 138.9L165.4 136.9L165.4 134.4L165.5 135.2L165.6 133.4L165.7 135.8L165.7 137.2L165.8 132.5L165.9 134.9L166.0 133.9L166.0 137.0L166.1 133.4L166.2 133.8L166.3 132.5L166.4 134.6L166.4 134.4L166.5 138.0L166.6 137.6L166.7 134.3L166.7 134.4L166.8 133.4L166.9 134.8L167.0 138.0L167.0 135.0L167.1 138.0L167.2 133.0L167.3 134.4L167.3 136.7L167.4 134.8L167.5 134.7L167.6 134.1L167.6 134.5L167.7 130.6L167.8 133.9L167.9 129.8L167.9 130.5L168.0 132.4L168.1 130.1L168.2 133.4L168.3 132.3L168.3 131.5L168.4 129.2L168.5 132.2L168.6 132.7L168.6 132.6L168.7 132.5L168.8 134.8L168.9 136.4L168.9 135.0L169.0 134.4L169.1 132.9L169.2 136.1L169.2 134.2L169.3 136.0L169.4 138.7L169.5 135.2L169.5 137.1L169.6 132.4L169.7 135.6L169.8 137.1L169.8 135.3L169.9 133.3L170.0 135.2L170.1 132.8L170.1 135.7L170.2 135.6L170.3 135.6L170.4 135.3L170.5 136.7L170.5 135.6L170.6 134.7L170.7 137.2L170.8 135.1L170.8 135.8L170.9 136.6L171.0 137.0L171.1 136.4L171.1 136.4L171.2 135.3L171.3 137.3L171.4 136.7L171.4 136.6L171.5 134.7L171.6 134.5L171.7 136.3L171.7 136.6L171.8 136.3L171.9 134.4L172.0 137.7L172.0 135.3L172.1 136.2L172.2 136.6L172.3 136.2L172.4 137.4L172.4 138.6L172.5 133.1L172.6 136.4L172.7 137.8L172.7 136.6L172.8 134.0L172.9 136.9L173.0 135.8L173.0 138.9L173.1 136.7L173.2 138.8L173.3 138.9L173.3 137.1L173.4 137.2L173.5 132.8L173.6 135.4L173.6 133.4L173.7 137.7L173.8 136.1L173.9 133.9L173.9 131.4L174.0 134.6L174.1 131.0L174.2 135.7L174.2 132.6L174.3 131.9L174.4 132.5L174.5 132.8L174.6 130.9L174.6 130.1L174.7 127.3L174.8 127.4L174.9 128.0L174.9 128.8L175.0 128.2L175.1 125.4L175.2 124.5L175.2 130.0L175.3 124.4L175.4 128.5L175.5 128.9L175.5 129.3L175.6 128.4L175.7 130.6L175.8 130.1L175.8 132.0L175.9 133.4L176.0 131.0L176.1 132.0L176.1 133.5L176.2 132.8L176.3 135.1L176.4 134.1L176.5 133.4L176.5 135.4L176.6 134.6L176.7 137.5L176.8 138.6L176.8 136.6L176.9 137.7L177.0 136.7L177.1 137.1L177.1 135.0L177.2 134.2L177.3 137.8L177.4 138.6L177.4 138.1L177.5 136.3L177.6 136.4L177.7 137.2L177.7 136.3L177.8 138.3L177.9 135.6L178.0 138.0L178.0 135.8L178.1 138.9L178.2 136.2L178.3 136.5L178.4 136.8L178.4 136.1L178.5 136.6L178.6 137.3L178.7 136.5L178.7 133.8L178.8 135.9L178.9 133.8L179.0 136.9L179.0 135.2L179.1 134.4L179.2 138.5L179.3 135.9L179.3 136.8L179.4 138.3L179.5 134.9L179.6 136.9L179.6 138.4L179.7 135.2L179.8 137.5L179.9 136.0L179.9 138.5L180.0 140.3L180.1 139.2L180.2 136.7L180.2 135.0L180.3 138.8L180.4 135.9L180.5 137.5L180.6 138.7L180.6 138.3L180.7 135.2L180.8 134.8L180.9 136.9L180.9 139.9L181.0 136.3L181.1 139.9L181.2 139.4L181.2 135.2L181.3 138.3L181.4 137.6L181.5 138.7L181.5 140.5L181.6 135.6L181.7 137.9L181.8 135.7L181.8 138.6L181.9 134.7L182.0 136.9L182.1 138.4L182.1 138.6L182.2 139.5L182.3 136.2L182.4 137.4L182.5 140.0L182.5 139.1L182.6 136.5L182.7 137.9L182.8 136.4L182.8 136.8L182.9 139.9L183.0 136.6L183.1 137.0L183.1 139.6L183.2 135.7L183.3 137.6L183.4 139.7L183.4 134.9L183.5 138.3L183.6 137.7L183.7 136.9L183.7 136.4L183.8 138.3L183.9 137.4L184.0 135.3L184.0 134.0L184.1 135.8L184.2 136.1L184.3 138.2L184.3 135.8L184.4 137.9L184.5 138.7L184.6 135.4L184.7 134.5L184.7 135.9L184.8 135.2L184.9 136.9L185.0 136.2L185.0 133.6L185.1 138.5L185.2 136.5L185.3 136.3L185.3 135.5L185.4 138.5L185.5 135.2L185.6 134.9L185.6 135.7L185.7 135.5L185.8 136.5L185.9 135.0L185.9 136.1L186.0 138.0L186.1 136.9L186.2 138.1L186.2 138.2L186.3 138.3L186.4 136.1L186.5 137.0L186.6 137.4L186.6 139.9L186.7 136.7L186.8 136.7L186.9 138.8L186.9 136.0L187.0 138.7L187.1 138.8L187.2 138.3L187.2 135.8L187.3 139.5L187.4 137.7L187.5 135.8L187.5 136.4L187.6 136.4L187.7 137.4L187.8 136.1L187.8 136.1L187.9 134.9L188.0 136.6L188.1 137.6L188.1 135.6L188.2 137.7L188.3 135.2L188.4 137.7L188.5 134.9L188.5 136.9L188.6 137.6L188.7 136.5L188.8 137.4L188.8 135.4L188.9 133.7L189.0 136.9L189.1 137.5L189.1 138.6L189.2 137.1L189.3 135.8L189.4 135.6L189.4 136.1L189.5 136.0L189.6 135.6L189.7 137.3L189.7 138.1L189.8 136.8L189.9 137.2L190.0 137.6L190.0 137.5L190.1 136.9L190.2 135.8L190.3 137.8L190.3 136.3L190.4 135.5L190.5 138.3L190.6 136.6L190.7 137.4L190.7 138.0L190.8 135.7L190.9 135.3L191.0 136.3L191.0 136.4L191.1 135.6L191.2 138.2L191.3 135.0L191.3 136.7L191.4 137.2L191.5 134.6L191.6 135.1L191.6 136.2L191.7 136.1L191.8 138.3L191.9 138.9L191.9 135.7L192.0 135.8L192.1 136.3L192.2 137.3L192.2 136.0L192.3 137.7L192.4 136.3L192.5 135.3L192.6 135.4L192.6 134.1L192.7 135.2L192.8 136.4L192.9 134.6L192.9 136.2L193.0 136.1L193.1 136.9L193.2 136.1L193.2 137.3L193.3 135.2L193.4 136.5L193.5 134.9L193.5 134.9L193.6 136.7L193.7 135.4L193.8 138.9L193.8 139.5L193.9 135.2L194.0 138.3L194.1 133.6L194.1 138.9L194.2 134.8L194.3 136.7L194.4 137.6L194.4 136.0L194.5 139.1L194.6 135.0L194.7 136.5L194.8 136.6L194.8 137.1L194.9 134.6L195.0 134.9L195.1 138.9L195.1 134.7L195.2 136.9L195.3 136.8L195.4 136.6L195.4 136.2L195.5 136.0L195.6 133.2L195.7 136.5L195.7 137.2L195.8 136.1L195.9 138.7L196.0 135.7L196.0 135.7L196.1 137.9L196.2 137.2L196.3 139.3L196.3 134.5L196.4 136.0L196.5 135.9L196.6 138.2L196.7 139.4L196.7 136.2L196.8 136.0L196.9 138.1L197.0 137.3L197.0 136.0L197.1 136.8L197.2 136.2L197.3 136.1L197.3 136.7L197.4 138.3L197.5 136.2L197.6 138.8L197.6 137.9L197.7 138.3L197.8 140.0L197.9 134.8L197.9 138.3L198.0 136.9L198.1 135.1L198.2 137.2L198.2 136.8L198.3 138.5L198.4 137.1L198.5 135.4L198.6 137.2L198.6 135.4L198.7 137.3L198.8 137.4L198.9 137.5L198.9 137.1L199.0 138.2L199.1 136.2L199.2 138.9L199.2 137.2L199.3 135.6L199.4 137.5L199.5 138.6L199.5 136.9L199.6 138.7L199.7 136.2L199.8 135.5L199.8 137.3L199.9 137.3L200.0 134.8L200.1 136.4L200.1 138.0L200.2 138.0L200.3 136.1L200.4 137.6L200.4 133.8L200.5 134.7L200.6 135.0L200.7 136.8L200.8 134.3L200.8 137.5L200.9 135.5L201.0 134.5L201.1 136.5L201.1 133.9L201.2 134.9L201.3 138.1L201.4 134.6L201.4 138.0L201.5 135.8L201.6 135.4L201.7 137.3L201.7 137.0L201.8 135.4L201.9 136.1L202.0 134.2L202.0 137.0L202.1 137.8L202.2 138.2L202.3 134.7L202.3 134.9L202.4 134.6L202.5 135.1L202.6 138.1L202.7 138.5L202.7 135.0L202.8 135.1L202.9 134.6L203.0 136.6L203.0 135.6L203.1 134.4L203.2 136.3L203.3 133.6L203.3 133.1L203.4 134.7L203.5 134.9L203.6 135.6L203.6 136.4L203.7 138.2L203.8 135.5L203.9 135.9L203.9 138.0L204.0 135.9L204.1 136.9L204.2 135.7L204.2 133.3L204.3 134.0L204.4 137.7L204.5 134.3L204.5 135.1L204.6 135.6L204.7 135.6L204.8 136.0L204.9 137.7L204.9 137.6L205.0 135.5L205.1 136.6L205.2 136.3L205.2 136.5L205.3 138.0L205.4 138.8L205.5 135.8L205.5 135.9L205.6 136.3L205.7 135.6L205.8 136.7L205.8 137.5L205.9 138.2L206.0 135.9L206.1 134.1L206.1 135.2L206.2 137.5L206.3 137.0L206.4 135.9L206.4 135.7L206.5 136.5L206.6 135.2L206.7 136.5L206.8 135.6L206.8 136.8L206.9 133.3L207.0 135.6L207.1 138.0L207.1 135.8L207.2 134.8L207.3 132.4L207.4 136.1L207.4 134.2L207.5 133.2L207.6 137.6L207.7 134.8L207.7 135.2L207.8 135.1L207.9 136.9L208.0 136.1L208.0 135.3L208.1 135.4L208.2 134.8L208.3 136.2L208.3 135.0L208.4 134.4L208.5 133.7L208.6 136.2L208.7 134.4L208.7 134.5L208.8 132.5L208.9 135.2L209.0 133.4L209.0 136.7L209.1 133.0L209.2 133.2L209.3 135.3L209.3 136.8L209.4 135.8L209.5 133.3L209.6 131.9L209.6 130.7L209.7 125.9L209.8 125.0L209.9 114.9L209.9 112.2L210.0 103.0L210.1 94.5L210.2 90.1L210.2 86.3L210.3 83.6L210.4 88.8L210.5 95.7L210.5 102.6L210.6 110.2L210.7 117.7L210.8 124.6L210.9 127.5L210.9 129.9L211.0 131.1L211.1 133.1L211.2 134.0L211.2 135.3L211.3 134.2L211.4 134.9L211.5 136.8L211.5 135.2L211.6 137.0L211.7 138.0L211.8 136.7L211.8 136.8L211.9 136.1L212.0 136.4L212.1 136.3L212.1 137.9L212.2 138.0L212.3 135.7L212.4 134.0L212.4 134.8L212.5 134.4L212.6 136.3L212.7 133.8L212.8 136.4L212.8 139.3L212.9 137.5L213.0 135.2L213.1 136.8L213.1 136.8L213.2 135.7L213.3 135.5L213.4 138.0L213.4 134.7L213.5 133.7L213.6 134.9L213.7 135.0L213.7 135.3L213.8 136.9L213.9 137.0L214.0 134.6L214.0 135.3L214.1 136.7L214.2 135.9L214.3 135.7L214.3 133.5L214.4 136.1L214.5 134.7L214.6 138.6L214.6 135.1L214.7 136.2L214.8 137.0L214.9 137.8L215.0 135.7L215.0 136.1L215.1 134.1L215.2 132.8L215.3 134.7L215.3 136.3L215.4 136.4L215.5 137.2L215.6 135.4L215.6 137.9L215.7 135.6L215.8 134.2L215.9 135.2L215.9 135.4L216.0 137.2L216.1 136.7L216.2 135.9L216.2 136.7L216.3 136.8L216.4 133.9L216.5 137.0L216.5 135.4L216.6 134.9L216.7 134.5L216.8 134.6L216.9 136.6L216.9 134.9L217.0 136.8L217.1 136.3L217.2 134.9L217.2 135.7L217.3 138.1L217.4 136.9L217.5 137.9L217.5 137.6L217.6 134.5L217.7 135.8L217.8 135.6L217.8 133.9L217.9 135.5L218.0 133.7L218.1 135.3L218.1 133.4L218.2 134.1L218.3 133.3L218.4 130.9L218.4 133.4L218.5 135.0L218.6 133.3L218.7 133.4L218.8 134.0L218.8 132.6L218.9 133.9L219.0 135.4L219.1 133.0L219.1 134.4L219.2 136.3L219.3 136.3L219.4 135.4L219.4 138.4L219.5 138.0L219.6 137.8L219.7 135.8L219.7 138.8L219.8 136.0L219.9 134.3L220.0 137.3L220.0 133.0L220.1 135.9L220.2 135.9L220.3 134.7L220.3 134.6L220.4 133.9L220.5 133.9L220.6 137.9L220.6 137.3L220.7 132.7L220.8 134.2L220.9 134.9L221.0 135.4L221.0 136.9L221.1 135.0L221.2 133.7L221.3 136.3L221.3 134.8L221.4 135.3L221.5 135.8L221.6 135.9L221.6 137.5L221.7 133.4L221.8 136.3L221.9 136.0L221.9 133.0L222.0 134.1L222.1 135.4L222.2 135.7L222.2 138.7L222.3 136.1L222.4 135.4L222.5 137.2L222.5 136.2L222.6 134.9L222.7 135.6L222.8 136.0L222.9 133.7L222.9 133.9L223.0 136.5L223.1 135.9L223.2 136.5L223.2 137.2L223.3 138.8L223.4 137.4L223.5 133.2L223.5 137.5L223.6 136.1L223.7 133.9L223.8 135.6L223.8 135.1L223.9 135.4L224.0 135.2L224.1 135.3L224.1 136.7L224.2 136.3L224.3 135.5L224.4 133.9L224.4 135.0L224.5 136.5L224.6 137.1L224.7 139.6L224.7 137.6L224.8 135.1L224.9 134.9L225.0 135.3L225.1 136.3L225.1 134.0L225.2 138.4L225.3 133.8L225.4 134.3L225.4 136.5L225.5 136.1L225.6 134.7L225.7 137.0L225.7 134.6L225.8 135.3L225.9 137.2L226.0 138.5L226.0 135.0L226.1 134.6L226.2 135.1L226.3 138.0L226.3 135.8L226.4 138.2L226.5 136.8L226.6 135.6L226.6 137.5L226.7 135.9L226.8 134.9L226.9 136.3L227.0 137.8L227.0 133.8L227.1 134.8L227.2 135.9L227.3 133.9L227.3 134.6L227.4 134.5L227.5 137.2L227.6 136.3L227.6 135.0L227.7 136.9L227.8 134.8L227.9 135.2L227.9 134.9L228.0 135.1L228.1 137.0L228.2 136.6L228.2 134.3L228.3 136.7L228.4 136.9L228.5 135.0L228.5 134.4L228.6 136.0L228.7 135.0L228.8 136.1L228.9 135.9L228.9 135.3L229.0 134.9L229.1 135.9L229.2 135.0L229.2 133.3L229.3 136.3L229.4 133.3L229.5 132.9L229.5 132.5L229.6 138.0L229.7 132.8L229.8 136.3L229.8 136.8L229.9 135.5L230.0 136.5L230.1 134.3L230.1 133.8L230.2 134.3L230.3 136.5L230.4 138.2L230.4 137.5L230.5 137.0L230.6 134.6L230.7 136.3L230.7 138.2L230.8 137.1L230.9 135.7L231.0 135.1L231.1 136.9L231.1 137.6L231.2 138.2L231.3 137.0L231.4 135.5L231.4 138.5L231.5 134.6L231.6 136.7L231.7 134.2L231.7 135.8L231.8 135.4L231.9 135.8L232.0 136.5L232.0 137.9L232.1 137.7L232.2 137.4L232.3 136.4L232.3 134.6L232.4 139.0L232.5 138.3L232.6 138.3L232.6 136.1L232.7 139.4L232.8 134.1L232.9 137.1L233.0 136.7L233.0 136.3L233.1 136.3L233.2 138.4L233.3 138.0L233.3 138.4L233.4 137.9L233.5 138.2L233.6 135.4L233.6 138.0L233.7 136.7L233.8 134.9L233.9 135.7L233.9 136.9L234.0 137.1L234.1 137.3L234.2 135.1L234.2 136.0L234.3 136.9L234.4 137.3L234.5 135.0L234.5 135.3L234.6 135.1L234.7 136.1L234.8 138.2L234.8 133.6L234.9 137.2L235.0 137.6L235.1 136.0L235.2 136.6L235.2 135.8L235.3 136.2L235.4 137.5L235.5 138.0L235.5 139.3L235.6 133.9L235.7 137.3L235.8 134.7L235.8 136.2L235.9 134.3L236.0 134.2L236.1 136.6L236.1 138.0L236.2 137.9L236.3 137.9L236.4 134.5L236.4 136.7L236.5 137.7L236.6 136.4L236.7 136.8L236.7 136.6L236.8 136.7L236.9 135.3L237.0 136.9L237.1 137.9L237.1 137.4L237.2 134.9L237.3 136.2L237.4 136.9L237.4 134.6L237.5 137.2L237.6 136.5L237.7 135.3L237.7 136.4L237.8 134.2L237.9 137.7L238.0 136.4L238.0 136.3L238.1 136.4L238.2 135.2L238.3 135.9L238.3 135.1L238.4 135.0L238.5 137.5L238.6 134.2L238.6 135.8L238.7 135.3L238.8 138.5L238.9 137.0L239.0 136.6L239.0 134.7L239.1 134.2L239.2 133.0L239.3 135.1L239.3 136.5L239.4 137.6L239.5 135.6L239.6 138.9L239.6 137.4L239.7 136.6L239.8 135.1L239.9 136.3L239.9 136.5L240.0 137.5L240.1 136.0L240.2 137.5L240.2 138.0L240.3 138.4L240.4 135.5L240.5 135.4L240.5 136.9L240.6 137.2L240.7 136.9L240.8 135.7L240.8 135.7L240.9 136.3L241.0 135.6L241.1 136.2L241.2 136.4L241.2 133.4L241.3 136.9L241.4 136.2L241.5 137.3L241.5 135.7L241.6 134.6L241.7 137.2L241.8 137.7L241.8 137.6L241.9 137.8L242.0 138.9L242.1 138.1L242.1 137.7L242.2 135.4L242.3 137.0L242.4 137.4L242.4 137.3L242.5 135.2L242.6 139.2L242.7 135.4L242.7 136.1L242.8 138.5L242.9 139.2L243.0 139.7L243.1 136.4L243.1 137.9L243.2 138.1L243.3 137.6L243.4 136.8L243.4 135.4L243.5 137.1L243.6 138.7L243.7 137.6L243.7 135.9L243.8 135.7L243.9 136.8L244.0 138.3L244.0 134.4L244.1 135.0L244.2 135.9L244.3 134.1L244.3 135.2L244.4 135.2L244.5 137.2L244.6 134.7L244.6 138.1L244.7 136.9L244.8 134.6L244.9 138.6L244.9 137.0L245.0 137.0L245.1 134.1L245.2 138.5L245.3 137.0L245.3 136.5L245.4 135.4L245.5 136.0L245.6 136.5L245.6 137.3L245.7 135.5L245.8 138.6L245.9 134.4L245.9 135.3L246.0 134.5L246.1 138.2L246.2 138.2L246.2 136.5L246.3 136.3L246.4 136.2L246.5 135.8L246.5 135.5L246.6 135.9L246.7 138.8L246.8 139.7L246.8 137.6L246.9 137.3L247.0 136.1L247.1 137.2L247.2 137.6L247.2 136.4L247.3 138.7L247.4 135.2L247.5 134.9L247.5 135.3L247.6 136.8L247.7 134.4L247.8 136.5L247.8 137.9L247.9 137.6L248.0 135.5L248.1 137.5L248.1 138.1L248.2 137.2L248.3 136.6L248.4 136.8L248.4 137.0L248.5 138.0L248.6 135.8L248.7 136.6L248.7 136.9L248.8 138.6L248.9 137.3L249.0 136.3L249.1 135.3L249.1 135.9L249.2 137.1L249.3 135.1L249.4 138.5L249.4 136.8L249.5 137.3L249.6 134.5L249.7 135.7L249.7 136.0L249.8 134.6L249.9 136.1L250.0 137.8L250.0 134.9L250.1 136.2L250.2 135.0L250.3 136.9L250.3 136.2L250.4 136.2L250.5 135.0L250.6 134.8L250.6 134.3L250.7 134.4L250.8 135.4L250.9 135.6L250.9 136.8L251.0 135.7L251.1 137.9L251.2 139.3L251.3 135.4L251.3 136.5L251.4 135.9L251.5 136.8L251.6 136.8L251.6 135.6L251.7 137.2L251.8 134.8L251.9 132.8L251.9 130.5L252.0 131.5L252.1 127.6L252.2 128.2L252.2 122.0L252.3 122.3L252.4 123.1L252.5 122.4L252.5 123.5L252.6 126.6L252.7 123.4L252.8 127.3L252.8 130.2L252.9 130.5L253.0 133.5L253.1 132.2L253.2 135.9L253.2 133.0L253.3 132.7L253.4 136.8L253.5 135.0L253.5 136.4L253.6 135.4L253.7 137.3L253.8 135.2L253.8 138.0L253.9 136.7L254.0 136.0L254.1 134.7L254.1 135.9L254.2 133.8L254.3 136.8L254.4 134.3L254.4 135.8L254.5 135.6L254.6 137.4L254.7 137.4L254.7 135.8L254.8 135.5L254.9 137.9L255.0 138.1L255.0 133.5L255.1 137.2L255.2 135.8L255.3 138.8L255.4 137.4L255.4 137.4L255.5 137.9L255.6 135.5L255.7 135.0L255.7 137.2L255.8 135.8L255.9 139.2L256.0 137.0L256.0 135.1L256.1 134.2L256.2 136.4L256.3 136.5L256.3 136.1L256.4 137.7L256.5 135.7L256.6 136.7L256.6 135.7L256.7 136.5L256.8 137.9L256.9 134.9L256.9 134.5L257.0 135.0L257.1 139.2L257.2 137.6L257.3 137.0L257.3 136.0L257.4 137.4L257.5 136.3L257.6 138.0L257.6 137.8L257.7 137.0L257.8 136.4L257.9 134.7L257.9 136.4L258.0 136.6L258.1 137.9L258.2 136.4L258.2 136.2L258.3 135.8L258.4 134.6L258.5 136.0L258.5 134.8L258.6 136.9L258.7 136.0L258.8 137.5L258.8 137.8L258.9 136.3L259.0 135.5L259.1 135.6L259.2 136.1L259.2 136.7L259.3 133.9L259.4 133.9L259.5 136.6L259.5 135.3L259.6 137.3L259.7 137.7L259.8 135.4L259.8 133.7L259.9 137.0L260.0 136.3L260.1 136.5L260.1 135.0L260.2 136.6L260.3 137.1L260.4 136.9L260.4 137.7L260.5 135.3L260.6 136.9L260.7 136.8L260.7 136.1L260.8 135.7L260.9 135.8L261.0 137.4L261.0 136.0L261.1 137.4L261.2 136.2L261.3 138.3L261.4 137.1L261.4 134.7L261.5 137.9L261.6 137.0L261.7 136.0L261.7 135.8L261.8 134.8L261.9 136.4L262.0 136.4L262.0 135.8L262.1 135.0L262.2 135.5L262.3 135.6L262.3 135.7L262.4 137.0L262.5 135.9L262.6 134.2L262.6 137.3L262.7 137.3L262.8 134.7L262.9 134.4L262.9 134.2L263.0 137.6L263.1 136.9L263.2 137.9L263.3 138.8L263.3 137.2L263.4 136.7L263.5 136.5L263.6 134.5L263.6 134.1L263.7 136.2L263.8 134.2L263.9 135.0L263.9 136.2L264.0 139.4L264.1 135.3L264.2 137.7L264.2 136.7L264.3 136.5L264.4 135.5L264.5 138.8L264.5 136.6L264.6 135.6L264.7 139.3L264.8 134.8L264.8 137.7L264.9 138.0L265.0 136.7L265.1 136.6L265.2 138.0L265.2 135.4L265.3 137.7L265.4 136.3L265.5 138.0L265.5 136.8L265.6 135.6L265.7 135.2L265.8 136.8L265.8 135.8L265.9 138.7L266.0 135.1L266.1 136.3L266.1 136.9L266.2 135.7L266.3 138.3L266.4 134.8L266.4 136.3L266.5 135.0L266.6 136.1L266.7 134.4L266.7 137.6L266.8 136.3L266.9 134.1L267.0 136.5L267.0 135.1L267.1 135.2L267.2 135.4L267.3 138.8L267.4 138.6L267.4 134.8L267.5 134.3L267.6 137.6L267.7 138.0L267.7 135.0L267.8 135.1L267.9 133.8L268.0 135.8L268.0 136.4L268.1 134.3L268.2 134.9L268.3 136.5L268.3 136.4L268.4 136.0L268.5 134.5L268.6 136.7L268.6 136.6L268.7 135.4L268.8 137.5L268.9 135.2L268.9 135.1L269.0 135.6L269.1 136.4L269.2 135.3L269.3 137.3L269.3 136.5L269.4 135.6L269.5 135.0L269.6 136.4L269.6 135.8L269.7 138.4L269.8 137.0L269.9 135.3L269.9 136.8L270.0 138.9L270.1 136.5L270.2 135.3L270.2 136.4L270.3 134.2L270.4 135.0L270.5 133.7L270.5 135.0L270.6 135.0L270.7 135.9L270.8 137.1L270.8 136.0L270.9 136.3L271.0 134.9L271.1 135.5L271.1 135.5L271.2 132.6L271.3 135.8L271.4 132.6L271.5 137.7L271.5 135.8L271.6 135.9L271.7 137.2L271.8 135.5L271.8 136.7L271.9 134.0L272.0 134.5L272.1 135.3L272.1 135.6L272.2 136.0L272.3 135.5L272.4 133.2L272.4 135.0L272.5 135.0L272.6 134.8L272.7 136.7L272.7 133.9L272.8 134.0L272.9 134.6L273.0 136.4L273.0 138.7L273.1 133.7L273.2 136.1L273.3 137.8L273.4 136.4L273.4 133.6L273.5 138.8L273.6 135.0L273.7 136.7L273.7 135.1L273.8 137.7L273.9 134.3L274.0 136.2L274.0 137.8L274.1 135.2L274.2 138.3L274.3 134.8L274.3 134.6L274.4 139.1L274.5 137.4L274.6 136.1L274.6 136.3L274.7 135.0L274.8 133.8L274.9 135.0L274.9 134.7L275.0 132.8L275.1 136.9L275.2 135.3L275.3 137.5L275.3 135.7L275.4 134.3L275.5 135.3L275.6 136.6L275.6 134.0L275.7 132.9L275.8 133.8L275.9 135.9L275.9 135.8L276.0 134.8L276.1 132.7L276.2 135.4L276.2 133.9L276.3 135.1L276.4 132.5L276.5 133.9L276.5 133.7L276.6 136.3L276.7 136.6L276.8 136.1L276.8 133.1L276.9 136.3L277.0 136.8L277.1 135.2L277.1 134.0L277.2 137.7L277.3 136.2L277.4 135.5L277.5 134.1L277.5 136.1L277.6 135.4L277.7 137.6L277.8 138.4L277.8 136.9L277.9 133.9L278.0 136.1L278.1 136.7L278.1 138.2L278.2 137.8L278.3 135.7L278.4 134.7L278.4 136.3L278.5 137.3L278.6 139.1L278.7 138.0L278.7 137.0L278.8 137.1L278.9 136.5L279.0 135.7L279.0 136.4L279.1 134.4L279.2 136.7L279.3 135.7L279.4 136.5L279.4 134.6L279.5 136.7L279.6 136.9L279.7 138.9L279.7 137.9L279.8 138.1L279.9 137.1L280.0 137.5L280.0 136.2L280.1 135.4L280.2 137.9L280.3 137.1L280.3 134.0L280.4 136.2L280.5 136.6L280.6 136.2L280.6 135.0L280.7 134.0L280.8 137.9L280.9 136.3L280.9 134.6L281.0 138.1L281.1 135.8L281.2 136.3L281.2 137.4L281.3 138.4L281.4 136.7L281.5 135.4L281.6 136.6L281.6 137.5L281.7 134.9L281.8 137.4L281.9 133.0L281.9 133.0L282.0 135.8L282.1 137.3L282.2 136.3L282.2 135.1L282.3 136.6L282.4 135.8L282.5 135.7L282.5 138.6L282.6 134.1L282.7 135.5L282.8 137.1L282.8 136.1L282.9 134.8L283.0 136.0L283.1 135.4L283.1 134.1L283.2 136.6L283.3 137.1L283.4 137.8L283.5 135.0L283.5 135.1L283.6 136.7L283.7 135.2L283.8 137.9L283.8 135.3L283.9 133.2L284.0 134.5L284.1 136.6L284.1 134.6L284.2 136.6L284.3 136.8L284.4 138.6L284.4 135.1L284.5 136.0L284.6 137.8L284.7 136.1L284.7 137.1L284.8 135.9L284.9 139.7L285.0 137.0L285.0 136.6L285.1 136.2L285.2 137.0L285.3 137.7L285.4 135.5L285.4 137.6L285.5 137.5L285.6 139.3L285.7 137.0L285.7 135.6L285.8 137.0L285.9 137.8L286.0 138.5L286.0 135.8L286.1 135.9L286.2 137.8L286.3 138.4L286.3 137.1L286.4 136.8L286.5 138.2L286.6 139.3L286.6 137.1L286.7 139.3L286.8 134.6L286.9 136.9L286.9 138.4L287.0 139.5L287.1 138.7L287.2 136.8L287.2 136.8L287.3 139.4L287.4 139.6L287.5 138.8L287.6 139.2L287.6 134.9L287.7 138.8L287.8 139.0L287.9 139.1L287.9 140.0L288.0 138.5L288.1 136.2L288.2 138.1L288.2 137.7L288.3 138.3L288.4 136.6L288.5 135.8L288.5 138.8L288.6 139.2L288.7 136.4L288.8 138.0L288.8 139.8L288.9 136.8L289.0 136.4L289.1 133.7L289.1 133.7L289.2 134.6L289.3 133.0L289.4 133.3L289.5 132.9L289.5 131.2L289.6 129.9L289.7 128.5L289.8 130.6L289.8 130.6L289.9 131.3L290.0 132.5L290.1 131.4L290.1 133.4L290.2 132.6L290.3 135.0L290.4 133.1L290.4 134.9L290.5 135.6L290.6 133.6L290.7 135.9L290.7 136.6L290.8 136.8L290.9 136.4L291.0 135.4L291.0 136.0L291.1 136.7L291.2 135.3L291.3 137.9L291.3 138.5L291.4 134.0L291.5 136.0L291.6 136.2L291.7 134.2L291.7 135.2L291.8 137.4L291.9 136.7L292.0 137.8L292.0 139.6L292.1 135.8L292.2 138.0L292.3 137.3L292.3 137.0L292.4 135.4L292.5 138.1L292.6 138.4L292.6 135.6L292.7 136.9L292.8 138.1L292.9 137.1L292.9 136.9L293.0 136.6L293.1 136.7L293.2 137.3L293.2 138.8L293.3 135.9L293.4 135.5L293.5 136.1L293.6 139.7L293.6 135.6L293.7 136.8L293.8 137.1L293.9 137.9L293.9 134.3L294.0 136.9L294.1 136.4L294.2 139.3L294.2 134.8L294.3 136.1L294.4 137.7L294.5 138.0L294.5 137.7L294.6 138.1L294.7 134.5L294.8 136.1L294.8 134.8L294.9 133.2L295.0 136.0L295.1 138.0L295.1 135.0L295.2 136.9L295.3 135.7L295.4 134.3L295.5 136.2L295.5 136.8L295.6 136.8L295.7 135.6L295.8 132.9L295.8 136.5L295.9 136.5L296.0 137.2L296.1 137.5L296.1 137.6L296.2 137.8L296.3 137.2L296.4 137.3L296.4 137.1L296.5 136.7L296.6 136.7L296.7 136.4L296.7 136.4L296.8 134.8L296.9 135.6L297.0 137.0L297.0 137.8L297.1 136.8L297.2 135.4L297.3 137.4L297.3 137.5L297.4 136.6L297.5 137.3L297.6 137.6L297.7 137.6L297.7 137.8L297.8 138.9L297.9 135.8L298.0 136.8L298.0 137.1L298.1 137.8L298.2 137.7L298.3 136.6L298.3 139.3L298.4 139.7L298.5 137.4L298.6 134.0L298.6 134.7L298.7 137.2L298.8 134.1L298.9 136.5L298.9 136.3L299.0 137.2L299.1 135.4L299.2 134.9L299.2 136.2L299.3 134.2L299.4 132.0L299.5 135.6L299.6 133.0L299.6 134.3L299.7 131.5L299.8 133.5L299.9 135.1L299.9 135.5L300.0 136.6L300.1 132.8L300.2 134.5L300.2 135.5L300.3 135.4L300.4 136.1L300.5 135.8L300.5 136.6L300.6 135.4L300.7 133.3L300.8 137.1L300.8 137.2L300.9 136.3L301.0 137.3L301.1 137.2L301.1 135.7L301.2 135.8L301.3 135.8L301.4 134.2L301.4 134.7L301.5 134.1L301.6 134.9L301.7 136.6L301.8 135.7L301.8 137.8L301.9 135.8L302.0 137.0L302.1 136.0L302.1 134.5L302.2 134.7L302.3 136.9L302.4 137.6L302.4 134.3L302.5 137.3L302.6 136.2L302.7 137.8L302.7 137.6L302.8 136.5L302.9 138.7L303.0 135.2L303.0 138.0L303.1 138.0L303.2 135.1L303.3 137.1L303.3 135.9L303.4 136.1L303.5 135.3L303.6 138.1L303.7 135.6L303.7 135.3L303.8 136.5L303.9 138.5L304.0 136.9L304.0 134.2L304.1 135.9L304.2 134.6L304.3 137.1L304.3 135.7L304.4 136.9L304.5 136.7L304.6 134.6L304.6 135.8L304.7 133.6L304.8 137.4L304.9 135.3L304.9 138.3L305.0 136.8L305.1 136.7L305.2 136.3L305.2 137.3L305.3 135.3L305.4 132.9L305.5 133.9L305.6 135.7L305.6 134.7L305.7 138.2L305.8 136.1L305.9 134.5L305.9 135.0L306.0 136.0L306.1 136.1L306.2 134.9L306.2 135.5L306.3 137.8L306.4 136.3L306.5 134.3L306.5 138.3L306.6 136.4L306.7 133.6L306.8 139.0L306.8 137.5L306.9 136.4L307.0 136.2L307.1 135.9L307.1 138.2L307.2 139.6L307.3 135.2L307.4 137.5L307.4 135.1L307.5 137.0L307.6 137.1L307.7 135.8L307.8 136.1L307.8 135.8L307.9 136.5L308.0 137.1L308.1 135.1L308.1 135.5L308.2 134.5L308.3 137.2L308.4 136.8L308.4 136.7L308.5 137.6L308.6 135.5L308.7 138.1L308.7 135.3L308.8 135.3L308.9 134.7L309.0 133.8L309.0 138.6L309.1 135.9L309.2 135.7L309.3 135.2L309.3 135.1L309.4 136.9L309.5 135.7L309.6 134.5L309.7 135.4L309.7 136.5L309.8 133.9L309.9 136.0L310.0 137.8L310.0 138.3L310.1 136.2L310.2 138.0L310.3 134.9L310.3 136.9L310.4 135.2L310.5 134.6L310.6 135.8L310.6 136.3L310.7 136.7L310.8 136.4L310.9 136.6L310.9 136.4L311.0 133.3L311.1 134.5L311.2 134.4L311.2 134.4L311.3 135.6L311.4 135.5L311.5 134.9L311.5 136.2L311.6 135.0L311.7 137.7L311.8 134.6L311.9 134.1L311.9 136.2L312.0 134.2L312.1 133.9L312.2 135.3L312.2 134.5L312.3 135.8L312.4 134.4L312.5 133.3L312.5 135.7L312.6 136.3L312.7 135.9L312.8 133.9L312.8 135.1L312.9 137.1L313.0 135.4L313.1 137.7L313.1 132.5L313.2 136.1L313.3 135.6L313.4 134.7L313.4 134.0L313.5 134.3L313.6 133.3L313.7 133.0L313.8 136.3L313.8 137.5L313.9 135.6L314.0 137.7L314.1 135.3L314.1 136.0L314.2 135.3L314.3 137.3L314.4 136.3L314.4 138.1L314.5 134.0L314.6 137.5L314.7 137.3L314.7 136.1L314.8 134.9L314.9 138.8L315.0 135.9L315.0 136.4L315.1 135.2L315.2 137.5L315.3 135.4L315.3 137.0L315.4 138.5L315.5 137.5L315.6 137.2L315.7 137.0L315.7 136.3L315.8 138.9L315.9 136.0L316.0 136.9L316.0 137.9L316.1 137.5L316.2 136.8L316.3 136.7L316.3 134.5L316.4 136.2L316.5 134.0L316.6 135.7L316.6 137.1L316.7 137.2L316.8 136.0L316.9 137.0L316.9 135.8L317.0 136.3L317.1 135.2L317.2 136.4L317.2 136.4L317.3 136.0L317.4 139.8L317.5 137.1L317.5 138.9L317.6 136.6L317.7 138.1L317.8 133.6L317.9 135.7L317.9 139.7L318.0 137.0L318.1 136.6L318.2 139.8L318.2 135.4L318.3 137.1L318.4 137.5L318.5 135.2L318.5 137.7L318.6 136.3L318.7 134.8L318.8 138.9L318.8 140.0L318.9 139.0L319.0 136.9L319.1 137.1L319.1 136.4L319.2 136.9L319.3 136.5L319.4 135.7L319.4 136.0L319.5 139.5L319.6 136.6L319.7 137.3L319.8 136.4L319.8 134.6L319.9 134.4L320.0 138.8L320.1 136.5L320.1 139.7L320.2 134.7L320.3 139.6L320.4 136.1L320.4 135.8L320.5 135.1L320.6 135.0L320.7 135.3L320.7 138.9L320.8 134.8L320.9 136.7L321.0 137.6L321.0 139.3L321.1 134.8L321.2 140.0L321.3 137.2L321.3 138.0L321.4 137.8L321.5 135.9L321.6 138.2L321.6 140.5L321.7 136.7L321.8 139.6L321.9 137.0L322.0 136.0L322.0 135.7L322.1 136.9L322.2 134.8L322.3 138.0L322.3 135.7L322.4 132.6L322.5 134.8L322.6 133.1L322.6 131.5L322.7 132.8L322.8 126.7L322.9 128.9L322.9 128.8L323.0 129.5L323.1 132.2L323.2 132.7L323.2 133.0L323.3 134.9L323.4 133.0L323.5 136.0L323.5 136.2L323.6 136.7L323.7 138.8L323.8 137.6L323.9 136.2L323.9 137.3L324.0 137.0L324.1 137.3L324.2 140.5L324.2 138.3L324.3 139.0L324.4 135.5L324.5 136.8L324.5 137.7L324.6 138.6L324.7 139.5L324.8 136.6L324.8 138.1L324.9 138.1L325.0 137.7L325.1 138.1L325.1 139.6L325.2 139.0L325.3 135.5L325.4 137.1L325.4 136.9L325.5 140.8L325.6 135.4L325.7 139.6" fill="none" stroke="#ef383c" stroke-width="1.3" stroke-linejoin="round"/>
<g font-size="11.5" text-anchor="middle"><text transform="translate(158.0 20.6) rotate(-90)">(100)</text><text transform="translate(169.6 115.3) rotate(-90)">(002)</text><text transform="translate(179.5 113.1) rotate(-90)">(101)</text><text transform="translate(223.7 116.5) rotate(-90)">(102)</text><text transform="translate(256.3 108.7) rotate(-90)">(110)</text><text transform="translate(274.4 117.9) rotate(-90)">(103)</text><text transform="translate(290.9 116.0) rotate(-90)">(200)</text><text transform="translate(305.1 119.7) rotate(-90)">(201)</text><text transform="translate(328.4 114.6) rotate(-90)">(202)</text></g>
<rect x="261.5" y="6.5" width="80.6" height="33.2" fill="#fff" stroke="#a8a8a8" stroke-width="1"/>
<path d="M262.6 15.6H292.6" stroke="#f02020" stroke-width="1.6"/>
<path d="M262.6 31.4H292.6" stroke="#333" stroke-width="1.6"/>
<g font-size="12.8"><text x="295.8" y="20.2">Yb/ZnO</text><text x="295.8" y="35.8">ZnO</text></g>
<path d="M75.3 1.2H345V214.3H75.3Z" fill="none" stroke="#000" stroke-width="2.4"/>
<path d="M75.30 214.3V218.90M94.28 214.3V216.80M113.27 214.3V218.90M132.25 214.3V216.80M151.24 214.3V218.90M170.22 214.3V216.80M189.21 214.3V218.90M208.19 214.3V216.80M227.18 214.3V218.90M246.17 214.3V216.80M265.15 214.3V218.90M284.13 214.3V216.80M303.12 214.3V218.90M322.11 214.3V216.80M341.09 214.3V218.90M75.3 203.30H70.70M75.3 181.59H72.80M75.3 159.87H70.70M75.3 138.16H72.80M75.3 116.44H70.70M75.3 94.73H72.80M75.3 73.01H70.70M75.3 51.29H72.80M75.3 29.58H70.70M75.3 7.87H72.80M102.27 1.2V3.70M129.24 1.2V5.80M156.21 1.2V3.70M183.18 1.2V5.80M210.15 1.2V3.70M237.12 1.2V5.80M264.09 1.2V3.70M291.06 1.2V5.80M318.03 1.2V3.70M345 192.99H342.50M345 171.68H340.40M345 150.37H342.50M345 129.06H340.40M345 107.75H342.50M345 86.44H340.40M345 65.13H342.50M345 43.82H340.40M345 22.51H342.50" stroke="#000" stroke-width="2"/>
<g font-size="17.6" text-anchor="end"><text x="68.0" y="209.70">0</text><text x="68.0" y="165.97">1000</text><text x="68.0" y="122.24">2000</text><text x="68.0" y="78.51">3000</text><text x="68.0" y="34.78">4000</text></g>
<g font-size="17.6"><text x="75.3" y="235.6" text-anchor="middle">10</text><text x="113.3" y="235.6" text-anchor="middle">20</text><text x="151.2" y="235.6" text-anchor="middle">30</text><text x="189.2" y="235.6" text-anchor="middle">40</text><text x="227.2" y="235.6" text-anchor="middle">50</text><text x="265.1" y="235.6" text-anchor="middle">60</text><text x="303.1" y="235.6" text-anchor="middle">70</text><text x="341.1" y="235.6" text-anchor="middle">80</text></g>
<text font-size="23.3" transform="translate(16.9 156.5) rotate(-90)">Intensity</text>
<text font-size="23.7" x="143.6" y="261.2">2Theta (deg.)</text>
</svg>
</body></html>
